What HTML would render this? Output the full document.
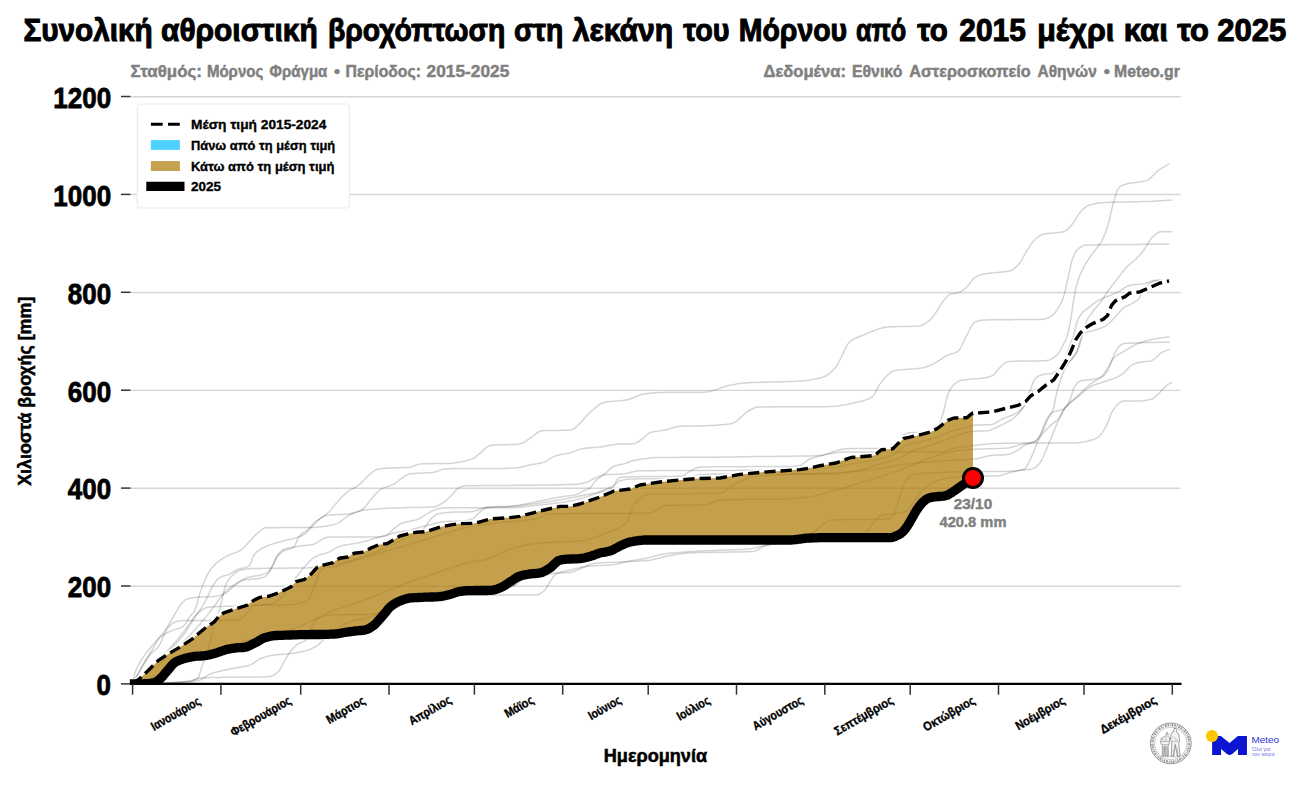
<!DOCTYPE html>
<html><head><meta charset="utf-8"><title>Chart</title>
<style>html,body{margin:0;padding:0;background:#fff;}svg{display:block;}text{font-family:"Liberation Sans",sans-serif;font-weight:bold;}</style>
</head><body>
<svg width="1300" height="786" viewBox="0 0 1300 786">
<rect width="1300" height="786" fill="#ffffff"/>
<text x="23.39" y="41.4" font-size="31.4" fill="#000" stroke="#000" stroke-width="1.0" textLength="129.36" lengthAdjust="spacingAndGlyphs">Συνολική</text>
<text x="161.0" y="41.4" font-size="31.4" fill="#000" stroke="#000" stroke-width="1.0" textLength="156.72" lengthAdjust="spacingAndGlyphs">αθροιστική</text>
<text x="328.03" y="41.4" font-size="31.4" fill="#000" stroke="#000" stroke-width="1.0" textLength="177.27" lengthAdjust="spacingAndGlyphs">βροχόπτωση</text>
<text x="513.89" y="41.4" font-size="31.4" fill="#000" stroke="#000" stroke-width="1.0" textLength="49.38" lengthAdjust="spacingAndGlyphs">στη</text>
<text x="572.63" y="41.4" font-size="31.4" fill="#000" stroke="#000" stroke-width="1.0" textLength="100.63" lengthAdjust="spacingAndGlyphs">λεκάνη</text>
<text x="683.2" y="41.4" font-size="31.4" fill="#000" stroke="#000" stroke-width="1.0" textLength="46.35" lengthAdjust="spacingAndGlyphs">του</text>
<text x="738.73" y="41.4" font-size="31.4" fill="#000" stroke="#000" stroke-width="1.0" textLength="108.43" lengthAdjust="spacingAndGlyphs">Μόρνου</text>
<text x="855.97" y="41.4" font-size="31.4" fill="#000" stroke="#000" stroke-width="1.0" textLength="50.32" lengthAdjust="spacingAndGlyphs">από</text>
<text x="917.32" y="41.4" font-size="31.4" fill="#000" stroke="#000" stroke-width="1.0" textLength="30.4" lengthAdjust="spacingAndGlyphs">το</text>
<text x="959.3" y="41.4" font-size="31.4" fill="#000" stroke="#000" stroke-width="1.0" textLength="66.54" lengthAdjust="spacingAndGlyphs">2015</text>
<text x="1037.26" y="41.4" font-size="31.4" fill="#000" stroke="#000" stroke-width="1.0" textLength="77.03" lengthAdjust="spacingAndGlyphs">μέχρι</text>
<text x="1123.76" y="41.4" font-size="31.4" fill="#000" stroke="#000" stroke-width="1.0" textLength="44.01" lengthAdjust="spacingAndGlyphs">και</text>
<text x="1177.18" y="41.4" font-size="31.4" fill="#000" stroke="#000" stroke-width="1.0" textLength="31.85" lengthAdjust="spacingAndGlyphs">το</text>
<text x="1217.2" y="41.4" font-size="31.4" fill="#000" stroke="#000" stroke-width="1.0" textLength="69.24" lengthAdjust="spacingAndGlyphs">2025</text>
<text x="130.45" y="77.4" font-size="17.3" fill="#808080" stroke="#808080" stroke-width="0.5" textLength="71.49" lengthAdjust="spacingAndGlyphs">Σταθμός:</text>
<text x="206.9" y="77.4" font-size="17.3" fill="#808080" stroke="#808080" stroke-width="0.5" textLength="56.4" lengthAdjust="spacingAndGlyphs">Μόρνος</text>
<text x="269.62" y="77.4" font-size="17.3" fill="#808080" stroke="#808080" stroke-width="0.5" textLength="57.77" lengthAdjust="spacingAndGlyphs">Φράγμα</text>
<text x="334.12" y="77.4" font-size="17.3" fill="#808080" stroke="#808080" stroke-width="0.5" textLength="6.06" lengthAdjust="spacingAndGlyphs">•</text>
<text x="345.6" y="77.4" font-size="17.3" fill="#808080" stroke="#808080" stroke-width="0.5" textLength="75.35" lengthAdjust="spacingAndGlyphs">Περίοδος:</text>
<text x="426.61" y="77.4" font-size="17.3" fill="#808080" stroke="#808080" stroke-width="0.5" textLength="82.66" lengthAdjust="spacingAndGlyphs">2015-2025</text>
<text x="763.58" y="77.4" font-size="17.3" fill="#808080" stroke="#808080" stroke-width="0.5" textLength="82.32" lengthAdjust="spacingAndGlyphs">Δεδομένα:</text>
<text x="851.93" y="77.4" font-size="17.3" fill="#808080" stroke="#808080" stroke-width="0.5" textLength="50.45" lengthAdjust="spacingAndGlyphs">Εθνικό</text>
<text x="909.34" y="77.4" font-size="17.3" fill="#808080" stroke="#808080" stroke-width="0.5" textLength="121.21" lengthAdjust="spacingAndGlyphs">Αστεροσκοπείο</text>
<text x="1037.52" y="77.4" font-size="17.3" fill="#808080" stroke="#808080" stroke-width="0.5" textLength="59.27" lengthAdjust="spacingAndGlyphs">Αθηνών</text>
<text x="1103.76" y="77.4" font-size="17.3" fill="#808080" stroke="#808080" stroke-width="0.5" textLength="6.17" lengthAdjust="spacingAndGlyphs">•</text>
<text x="1113.97" y="77.4" font-size="17.3" fill="#808080" stroke="#808080" stroke-width="0.5" textLength="65.82" lengthAdjust="spacingAndGlyphs">Meteo.gr</text>
<line x1="130.5" x2="1180.5" y1="586.15" y2="586.15" stroke="#d6d6d6" stroke-width="1.45"/>
<line x1="130.5" x2="1180.5" y1="488.25" y2="488.25" stroke="#d6d6d6" stroke-width="1.45"/>
<line x1="130.5" x2="1180.5" y1="390.35" y2="390.35" stroke="#d6d6d6" stroke-width="1.45"/>
<line x1="130.5" x2="1180.5" y1="292.45" y2="292.45" stroke="#d6d6d6" stroke-width="1.45"/>
<line x1="130.5" x2="1180.5" y1="194.55" y2="194.55" stroke="#d6d6d6" stroke-width="1.45"/>
<line x1="130.5" x2="1180.5" y1="96.65" y2="96.65" stroke="#d6d6d6" stroke-width="1.45"/>
<line x1="121" x2="130.5" y1="683.9" y2="683.9" stroke="#333" stroke-width="1.5"/>
<text x="96.6" y="695.2" font-size="28.6" fill="#000" stroke="#000" stroke-width="0.8" textLength="14.4" lengthAdjust="spacingAndGlyphs">0</text>
<line x1="121" x2="130.5" y1="586.0" y2="586.0" stroke="#333" stroke-width="1.5"/>
<text x="67.8" y="597.3" font-size="28.6" fill="#000" stroke="#000" stroke-width="0.8" textLength="43.3" lengthAdjust="spacingAndGlyphs">200</text>
<line x1="121" x2="130.5" y1="488.1" y2="488.1" stroke="#333" stroke-width="1.5"/>
<text x="67.8" y="499.4" font-size="28.6" fill="#000" stroke="#000" stroke-width="0.8" textLength="43.3" lengthAdjust="spacingAndGlyphs">400</text>
<line x1="121" x2="130.5" y1="390.2" y2="390.2" stroke="#333" stroke-width="1.5"/>
<text x="67.8" y="401.5" font-size="28.6" fill="#000" stroke="#000" stroke-width="0.8" textLength="43.3" lengthAdjust="spacingAndGlyphs">600</text>
<line x1="121" x2="130.5" y1="292.3" y2="292.3" stroke="#333" stroke-width="1.5"/>
<text x="67.8" y="303.6" font-size="28.6" fill="#000" stroke="#000" stroke-width="0.8" textLength="43.3" lengthAdjust="spacingAndGlyphs">800</text>
<line x1="121" x2="130.5" y1="194.4" y2="194.4" stroke="#333" stroke-width="1.5"/>
<text x="53.3" y="205.7" font-size="28.6" fill="#000" stroke="#000" stroke-width="0.8" textLength="57.8" lengthAdjust="spacingAndGlyphs">1000</text>
<line x1="121" x2="130.5" y1="96.5" y2="96.5" stroke="#333" stroke-width="1.5"/>
<text x="53.3" y="107.8" font-size="28.6" fill="#000" stroke="#000" stroke-width="0.8" textLength="57.8" lengthAdjust="spacingAndGlyphs">1200</text>
<text transform="translate(31.3,391.3) rotate(-90)" text-anchor="middle" font-size="17.5" fill="#000" stroke="#000" stroke-width="0.5" textLength="189" lengthAdjust="spacingAndGlyphs">Χιλιοστά βροχής [mm]</text>
<g fill="none" stroke="#000" stroke-opacity="0.17" stroke-width="1.5" stroke-linejoin="round">
<path d="M132.6,683.9 L134.6,680.2 L136.6,676.7 L138.6,673.2 L140.6,669.7 L142.6,666.3 L144.6,662.9 L146.6,659.5 L148.6,656.5 L150.6,654.1 L152.6,652.2 L154.6,650.5 L156.6,648.7 L158.6,646.3 L160.6,642.7 L162.6,638.4 L164.6,634.0 L166.6,629.7 L168.6,626.9 L170.6,624.9 L172.6,623.2 L174.6,622.1 L176.6,621.6 L178.6,621.2 L180.6,620.8 L182.6,620.6 L184.6,620.4 L186.6,620.4 L188.6,620.4 L190.6,620.4 L192.6,620.4 L194.6,620.4 L196.6,620.4 L198.7,620.4 L200.7,620.4 L202.7,620.4 L204.7,620.4 L206.7,620.4 L208.7,620.4 L210.7,620.4 L212.7,620.4 L214.7,620.4 L216.7,620.4 L218.7,620.4 L220.7,620.4 L222.7,620.4 L224.7,620.3 L226.7,620.3 L228.7,620.2 L230.7,620.1 L232.7,620.0 L234.7,619.9 L236.7,619.8 L238.7,619.7 L240.7,619.2 L242.7,617.6 L244.7,615.4 L246.7,613.1 L248.7,610.9 L250.7,608.3 L252.7,606.1 L254.7,605.1 L256.7,605.1 L258.7,605.0 L260.7,605.0 L262.7,604.9 L264.7,604.9 L266.7,604.9 L268.7,604.9 L270.7,604.9 L272.7,604.9 L274.7,604.9 L276.7,604.9 L278.7,604.9 L280.7,604.8 L282.7,604.8 L284.7,604.8 L286.7,604.8 L288.7,604.7 L290.7,604.7 L292.7,604.6 L294.7,604.3 L296.7,604.0 L298.7,603.6 L300.7,603.1 L302.7,602.5 L304.7,601.8 L306.7,601.0 L308.7,599.1 L310.7,595.3 L312.7,590.5 L314.7,585.6 L316.7,580.2 L318.7,574.3 L320.7,570.3 L322.7,568.6 L324.7,567.4 L326.7,566.5 L328.8,565.8 L330.8,565.2 L332.8,564.6 L334.8,564.1 L336.8,563.7 L338.8,563.3 L340.8,562.9 L342.8,562.5 L344.8,562.1 L346.8,561.5 L348.8,561.0 L350.8,560.4 L352.8,559.9 L354.8,559.3 L356.8,558.7 L358.8,558.1 L360.8,557.4 L362.8,556.8 L364.8,556.1 L366.8,555.4 L368.8,554.6 L370.8,553.9 L372.8,553.1 L374.8,552.3 L376.8,551.5 L378.8,550.7 L380.8,549.8 L382.8,549.0 L384.8,548.1 L386.8,547.2 L388.8,546.3 L390.8,545.4 L392.8,544.4 L394.8,543.5 L396.8,542.5 L398.8,541.6 L400.8,540.6 L402.8,539.7 L404.8,538.8 L406.8,537.9 L408.8,537.0 L410.8,536.1 L412.8,535.1 L414.8,534.1 L416.8,533.0 L418.8,532.0 L420.8,530.8 L422.8,529.4 L424.8,527.5 L426.8,524.7 L428.8,521.7 L430.8,519.3 L432.8,517.3 L434.8,515.5 L436.8,514.2 L438.8,513.7 L440.8,513.3 L442.8,512.9 L444.8,512.7 L446.8,512.5 L448.8,512.4 L450.8,512.3 L452.8,512.2 L454.8,512.1 L456.9,512.1 L458.9,512.1 L460.9,512.0 L462.9,512.0 L464.9,511.9 L466.9,511.9 L468.9,511.8 L470.9,511.7 L472.9,511.4 L474.9,510.9 L476.9,510.2 L478.9,509.5 L480.9,508.9 L482.9,508.3 L484.9,507.7 L486.9,507.2 L488.9,507.0 L490.9,506.9 L492.9,506.8 L494.9,506.7 L496.9,506.6 L498.9,506.6 L500.9,506.5 L502.9,506.5 L504.9,506.4 L506.9,506.4 L508.9,506.3 L510.9,506.1 L512.9,506.0 L514.9,505.8 L516.9,505.5 L518.9,505.2 L520.9,504.8 L522.9,504.5 L524.9,504.1 L526.9,503.7 L528.9,503.3 L530.9,502.9 L532.9,502.4 L534.9,502.0 L536.9,501.6 L538.9,501.2 L540.9,500.8 L542.9,500.4 L544.9,500.0 L546.9,499.6 L548.9,499.2 L550.9,498.8 L552.9,498.3 L554.9,497.9 L556.9,497.6 L558.9,497.2 L560.9,496.9 L562.9,496.6 L564.9,496.3 L566.9,496.1 L568.9,495.9 L570.9,495.6 L572.9,495.3 L574.9,495.0 L576.9,494.5 L578.9,493.6 L580.9,492.2 L582.9,491.0 L584.9,490.2 L587.0,489.6 L589.0,488.7 L591.0,486.9 L593.0,484.1 L595.0,481.4 L597.0,479.5 L599.0,478.0 L601.0,476.6 L603.0,475.2 L605.0,473.7 L607.0,471.9 L609.0,469.9 L611.0,468.1 L613.0,466.6 L615.0,465.8 L617.0,465.3 L619.0,464.8 L621.0,464.4 L623.0,464.0 L625.0,463.4 L627.0,462.7 L629.0,462.0 L631.0,461.3 L633.0,460.7 L635.0,460.2 L637.0,459.9 L639.0,459.5 L641.0,459.2 L643.0,458.9 L645.0,458.7 L647.0,458.4 L649.0,458.2 L651.0,458.0 L653.0,457.8 L655.0,457.6 L657.0,457.5 L659.0,457.5 L661.0,457.4 L663.0,457.4 L665.0,457.4 L667.0,457.4 L669.0,457.4 L671.0,457.4 L673.0,457.4 L675.0,457.4 L677.0,457.4 L679.0,457.3 L681.0,457.3 L683.0,457.3 L685.0,457.3 L687.0,457.3 L689.0,457.3 L691.0,457.3 L693.0,457.3 L695.0,457.3 L697.0,457.3 L699.0,457.3 L701.0,457.3 L703.0,457.3 L705.0,457.3 L707.0,457.3 L709.0,457.2 L711.0,457.2 L713.0,457.2 L715.0,457.2 L717.1,457.2 L719.1,457.1 L721.1,457.1 L723.1,457.1 L725.1,457.0 L727.1,457.0 L729.1,457.0 L731.1,457.0 L733.1,456.9 L735.1,456.9 L737.1,456.9 L739.1,456.8 L741.1,456.8 L743.1,456.8 L745.1,456.7 L747.1,456.7 L749.1,456.7 L751.1,456.6 L753.1,456.6 L755.1,456.6 L757.1,456.5 L759.1,456.5 L761.1,456.5 L763.1,456.5 L765.1,456.4 L767.1,456.4 L769.1,456.4 L771.1,456.4 L773.1,456.4 L775.1,456.3 L777.1,456.3 L779.1,456.3 L781.1,456.3 L783.1,456.3 L785.1,456.3 L787.1,456.2 L789.1,456.2 L791.1,456.2 L793.1,456.2 L795.1,456.1 L797.1,456.1 L799.1,456.1 L801.1,456.1 L803.1,456.0 L805.1,456.0 L807.1,456.0 L809.1,455.9 L811.1,455.9 L813.1,455.8 L815.1,455.8 L817.1,455.7 L819.1,455.6 L821.1,455.5 L823.1,455.2 L825.1,454.6 L827.1,454.0 L829.1,453.2 L831.1,452.5 L833.1,451.8 L835.1,451.2 L837.1,450.6 L839.1,449.9 L841.1,449.4 L843.1,448.9 L845.1,448.8 L847.2,448.7 L849.2,448.7 L851.2,448.6 L853.2,448.6 L855.2,448.6 L857.2,448.6 L859.2,448.6 L861.2,448.5 L863.2,448.5 L865.2,448.5 L867.2,448.5 L869.2,448.5 L871.2,448.5 L873.2,448.5 L875.2,448.5 L877.2,448.4 L879.2,448.4 L881.2,448.4 L883.2,448.4 L885.2,448.3 L887.2,448.3 L889.2,448.2 L891.2,447.8 L893.2,446.8 L895.2,445.4 L897.2,443.9 L899.2,441.1 L901.2,437.9 L903.2,435.2 L905.2,434.0 L907.2,433.1 L909.2,432.8 L911.2,432.7 L913.2,432.7 L915.2,432.6 L917.2,432.6 L919.2,432.6 L921.2,432.6 L923.2,432.6 L925.2,432.6 L927.2,432.5 L929.2,432.5 L931.2,432.4 L933.2,431.5 L935.2,429.7 L937.2,427.3 L939.2,424.0 L941.2,419.2 L943.2,413.3 L945.2,404.6 L947.2,396.4 L949.2,391.5 L951.2,387.8 L953.2,385.4 L955.2,383.5 L957.2,382.0 L959.2,380.9 L961.2,380.3 L963.2,380.0 L965.2,379.7 L967.2,379.4 L969.2,379.3 L971.2,379.1 L973.2,379.0 L975.3,378.8 L977.3,378.7 L979.3,378.5 L981.3,378.3 L983.3,378.1 L985.3,377.8 L987.3,377.3 L989.3,376.8 L991.3,376.1 L993.3,375.2 L995.3,373.3 L997.3,370.7 L999.3,368.1 L1001.3,366.2 L1003.3,364.4 L1005.3,362.8 L1007.3,361.8 L1009.3,361.5 L1011.3,361.4 L1013.3,361.3 L1015.3,361.2 L1017.3,361.2 L1019.3,361.1 L1021.3,361.1 L1023.3,361.1 L1025.3,361.1 L1027.3,361.0 L1029.3,361.0 L1031.3,361.0 L1033.3,361.0 L1035.3,360.9 L1037.3,360.9 L1039.3,360.8 L1041.3,360.8 L1043.3,360.7 L1045.3,360.6 L1047.3,360.4 L1049.3,359.9 L1051.3,359.1 L1053.3,357.9 L1055.3,356.4 L1057.3,354.8 L1059.3,352.1 L1061.3,348.3 L1063.3,344.5 L1065.3,341.1 L1067.3,335.9 L1069.3,327.3 L1071.3,316.3 L1073.3,301.8 L1075.3,290.9 L1077.3,283.0 L1079.3,276.8 L1081.3,272.0 L1083.3,267.9 L1085.3,264.4 L1087.3,261.2 L1089.3,258.2 L1091.3,255.2 L1093.3,252.4 L1095.3,249.9 L1097.3,247.5 L1099.3,244.9 L1101.3,241.8 L1103.3,237.9 L1105.4,232.7 L1107.4,226.7 L1109.4,219.4 L1111.4,210.7 L1113.4,202.8 L1115.4,196.0 L1117.4,190.1 L1119.4,187.1 L1121.4,185.9 L1123.4,185.0 L1125.4,184.3 L1127.4,183.8 L1129.4,183.3 L1131.4,183.0 L1133.4,182.7 L1135.4,182.4 L1137.4,182.2 L1139.4,182.0 L1141.4,181.7 L1143.4,181.3 L1145.4,180.9 L1147.4,180.2 L1149.4,179.0 L1151.4,177.1 L1153.4,175.0 L1155.4,172.9 L1157.4,171.1 L1159.4,169.7 L1161.4,168.4 L1163.4,167.1 L1165.4,165.9 L1167.4,164.9 L1169.4,163.9"/>
<path d="M132.6,683.9 L134.6,682.1 L136.6,680.4 L138.6,678.6 L140.6,676.8 L142.6,674.9 L144.6,673.1 L146.6,671.2 L148.6,669.3 L150.6,667.4 L152.6,665.5 L154.6,663.6 L156.6,661.6 L158.6,659.7 L160.6,657.7 L162.6,655.7 L164.6,653.7 L166.7,651.6 L168.7,649.5 L170.7,647.3 L172.7,645.0 L174.7,642.7 L176.7,640.4 L178.7,638.0 L180.7,635.5 L182.7,633.0 L184.7,630.4 L186.7,627.7 L188.7,624.9 L190.7,621.9 L192.7,619.1 L194.7,616.4 L196.7,614.0 L198.7,611.8 L200.7,609.0 L202.7,605.7 L204.7,602.1 L206.7,598.3 L208.7,594.3 L210.7,590.0 L212.7,586.1 L214.7,583.0 L216.7,580.2 L218.7,578.2 L220.7,577.1 L222.7,576.3 L224.7,575.7 L226.7,575.1 L228.7,574.5 L230.8,573.6 L232.8,572.3 L234.8,571.0 L236.8,569.8 L238.8,569.0 L240.8,568.5 L242.8,568.1 L244.8,567.7 L246.8,567.1 L248.8,566.1 L250.8,563.4 L252.8,557.0 L254.8,554.0 L256.8,551.9 L258.8,550.4 L260.8,549.0 L262.8,547.9 L264.8,547.0 L266.8,546.1 L268.8,545.3 L270.8,544.6 L272.8,543.9 L274.8,543.3 L276.8,542.7 L278.8,542.2 L280.8,541.7 L282.8,541.1 L284.8,540.6 L286.8,540.1 L288.8,539.6 L290.8,539.2 L292.8,538.7 L294.8,538.1 L296.9,537.5 L298.9,536.9 L300.9,536.1 L302.9,535.2 L304.9,534.0 L306.9,532.2 L308.9,530.1 L310.9,527.9 L312.9,525.8 L314.9,523.7 L316.9,521.7 L318.9,519.8 L320.9,518.1 L322.9,516.6 L324.9,515.3 L326.9,513.8 L328.9,512.0 L330.9,509.9 L332.9,507.4 L334.9,504.9 L336.9,502.5 L338.9,500.3 L340.9,498.1 L342.9,496.0 L344.9,494.1 L346.9,492.4 L348.9,490.9 L350.9,489.7 L352.9,488.6 L354.9,487.5 L356.9,486.3 L358.9,484.9 L361.0,483.1 L363.0,481.1 L365.0,478.9 L367.0,476.8 L369.0,475.0 L371.0,473.4 L373.0,471.7 L375.0,470.4 L377.0,469.5 L379.0,469.1 L381.0,468.8 L383.0,468.5 L385.0,468.3 L387.0,468.2 L389.0,468.1 L391.0,468.0 L393.0,467.9 L395.0,467.8 L397.0,467.8 L399.0,467.7 L401.0,467.7 L403.0,467.6 L405.0,467.6 L407.0,467.5 L409.0,467.4 L411.0,466.9 L413.0,466.3 L415.0,465.5 L417.0,464.7 L419.0,464.1 L421.0,463.9 L423.0,463.8 L425.1,463.8 L427.1,463.7 L429.1,463.7 L431.1,463.7 L433.1,463.7 L435.1,463.6 L437.1,463.6 L439.1,463.6 L441.1,463.6 L443.1,463.5 L445.1,463.5 L447.1,463.4 L449.1,463.4 L451.1,463.3 L453.1,463.1 L455.1,462.9 L457.1,462.6 L459.1,462.3 L461.1,461.9 L463.1,461.5 L465.1,461.1 L467.1,460.5 L469.1,460.0 L471.1,459.4 L473.1,458.6 L475.1,457.3 L477.1,455.7 L479.1,454.1 L481.1,452.4 L483.1,450.4 L485.1,448.5 L487.1,446.9 L489.1,446.0 L491.2,445.5 L493.2,445.1 L495.2,444.9 L497.2,444.8 L499.2,444.8 L501.2,444.7 L503.2,444.7 L505.2,444.7 L507.2,444.7 L509.2,444.6 L511.2,444.6 L513.2,444.5 L515.2,444.4 L517.2,444.2 L519.2,444.0 L521.2,443.6 L523.2,442.8 L525.2,441.6 L527.2,440.2 L529.2,438.7 L531.2,437.4 L533.2,436.0 L535.2,434.3 L537.2,432.7 L539.2,431.5 L541.2,430.8 L543.2,430.7 L545.2,430.6 L547.2,430.6 L549.2,430.5 L551.2,430.5 L553.2,430.4 L555.3,430.4 L557.3,430.4 L559.3,430.4 L561.3,430.3 L563.3,430.3 L565.3,430.3 L567.3,430.2 L569.3,430.1 L571.3,429.9 L573.3,429.1 L575.3,427.6 L577.3,425.8 L579.3,423.8 L581.3,422.0 L583.3,419.7 L585.3,417.4 L587.3,415.1 L589.3,413.1 L591.3,411.3 L593.3,409.5 L595.3,407.8 L597.3,406.2 L599.3,404.7 L601.3,403.5 L603.3,402.7 L605.3,402.2 L607.3,401.9 L609.3,401.6 L611.3,401.4 L613.3,401.2 L615.3,401.1 L617.3,400.9 L619.3,400.8 L621.4,400.6 L623.4,400.4 L625.4,400.1 L627.4,399.8 L629.4,399.2 L631.4,398.5 L633.4,397.7 L635.4,396.8 L637.4,396.0 L639.4,395.2 L641.4,394.5 L643.4,394.0 L645.4,393.7 L647.4,393.5 L649.4,393.3 L651.4,393.1 L653.4,393.0 L655.4,392.8 L657.4,392.7 L659.4,392.6 L661.4,392.5 L663.4,392.4 L665.4,392.3 L667.4,392.3 L669.4,392.3 L671.4,392.3 L673.4,392.3 L675.4,392.3 L677.4,392.3 L679.4,392.3 L681.4,392.3 L683.4,392.3 L685.5,392.3 L687.5,392.3 L689.5,392.3 L691.5,392.3 L693.5,392.3 L695.5,392.3 L697.5,392.3 L699.5,392.3 L701.5,392.3 L703.5,392.2 L705.5,392.0 L707.5,391.8 L709.5,391.4 L711.5,391.0 L713.5,390.4 L715.5,389.8 L717.5,389.1 L719.5,388.4 L721.5,387.6 L723.5,387.0 L725.5,386.3 L727.5,385.7 L729.5,385.2 L731.5,384.9 L733.5,384.5 L735.5,384.2 L737.5,383.8 L739.5,383.6 L741.5,383.3 L743.5,383.1 L745.5,383.0 L747.5,382.8 L749.5,382.7 L751.6,382.6 L753.6,382.5 L755.6,382.5 L757.6,382.4 L759.6,382.3 L761.6,382.3 L763.6,382.2 L765.6,382.2 L767.6,382.1 L769.6,382.1 L771.6,382.0 L773.6,382.0 L775.6,381.9 L777.6,381.9 L779.6,381.8 L781.6,381.8 L783.6,381.7 L785.6,381.7 L787.6,381.6 L789.6,381.5 L791.6,381.5 L793.6,381.4 L795.6,381.3 L797.6,381.1 L799.6,381.0 L801.6,380.9 L803.6,380.7 L805.6,380.5 L807.6,380.3 L809.6,380.0 L811.6,379.6 L813.6,379.3 L815.7,378.9 L817.7,378.4 L819.7,377.9 L821.7,377.4 L823.7,376.7 L825.7,376.0 L827.7,374.9 L829.7,373.3 L831.7,371.4 L833.7,369.3 L835.7,367.0 L837.7,364.2 L839.7,360.5 L841.7,356.3 L843.7,351.9 L845.7,347.8 L847.7,344.3 L849.7,341.8 L851.7,340.4 L853.7,339.2 L855.7,338.2 L857.7,337.3 L859.7,336.5 L861.7,335.7 L863.7,334.9 L865.7,334.0 L867.7,333.1 L869.7,332.3 L871.7,331.5 L873.7,330.7 L875.7,329.9 L877.7,329.2 L879.7,328.6 L881.8,328.0 L883.8,327.6 L885.8,327.2 L887.8,327.0 L889.8,326.8 L891.8,326.8 L893.8,326.7 L895.8,326.6 L897.8,326.6 L899.8,326.6 L901.8,326.5 L903.8,326.5 L905.8,326.5 L907.8,326.4 L909.8,326.4 L911.8,326.3 L913.8,326.3 L915.8,326.2 L917.8,326.1 L919.8,325.9 L921.8,325.3 L923.8,324.4 L925.8,323.1 L927.8,321.7 L929.8,320.1 L931.8,318.3 L933.8,315.7 L935.8,312.7 L937.8,309.5 L939.8,306.2 L941.8,303.1 L943.8,300.4 L945.9,297.9 L947.9,295.6 L949.9,294.2 L951.9,293.7 L953.9,293.5 L955.9,293.2 L957.9,292.9 L959.9,292.1 L961.9,290.9 L963.9,289.4 L965.9,287.7 L967.9,285.8 L969.9,283.1 L971.9,280.4 L973.9,278.2 L975.9,276.9 L977.9,275.9 L979.9,275.1 L981.9,274.5 L983.9,274.0 L985.9,273.7 L987.9,273.4 L989.9,273.1 L991.9,272.9 L993.9,272.8 L995.9,272.6 L997.9,272.5 L999.9,272.3 L1001.9,272.1 L1003.9,271.9 L1005.9,271.6 L1007.9,271.2 L1010.0,270.8 L1012.0,270.2 L1014.0,268.9 L1016.0,267.1 L1018.0,265.0 L1020.0,262.6 L1022.0,259.5 L1024.0,255.8 L1026.0,252.1 L1028.0,248.9 L1030.0,245.9 L1032.0,243.0 L1034.0,240.5 L1036.0,238.5 L1038.0,237.0 L1040.0,235.7 L1042.0,234.7 L1044.0,234.0 L1046.0,233.7 L1048.0,233.4 L1050.0,233.2 L1052.0,233.0 L1054.0,232.9 L1056.0,232.8 L1058.0,232.6 L1060.0,232.4 L1062.0,232.1 L1064.0,231.6 L1066.0,230.6 L1068.0,228.9 L1070.0,226.8 L1072.0,224.6 L1074.0,221.8 L1076.1,218.5 L1078.1,215.1 L1080.1,212.4 L1082.1,210.3 L1084.1,208.4 L1086.1,206.7 L1088.1,205.6 L1090.1,205.0 L1092.1,204.4 L1094.1,203.9 L1096.1,203.5 L1098.1,203.1 L1100.1,202.9 L1102.1,202.7 L1104.1,202.6 L1106.1,202.5 L1108.1,202.4 L1110.1,202.3 L1112.1,202.3 L1114.1,202.2 L1116.1,202.1 L1118.1,202.1 L1120.1,202.0 L1122.1,202.0 L1124.1,202.0 L1126.1,201.9 L1128.1,201.9 L1130.1,201.9 L1132.1,201.8 L1134.1,201.8 L1136.1,201.8 L1138.1,201.7 L1140.2,201.7 L1142.2,201.6 L1144.2,201.6 L1146.2,201.5 L1148.2,201.5 L1150.2,201.4 L1152.2,201.3 L1154.2,201.2 L1156.2,201.1 L1158.2,201.0 L1160.2,200.8 L1162.2,200.7 L1164.2,200.5 L1166.2,200.4 L1168.2,200.2 L1170.2,200.1 L1172.2,199.9"/>
<path d="M132.6,683.9 L134.6,683.9 L136.6,683.9 L138.6,683.9 L140.6,683.8 L142.6,683.8 L144.6,683.8 L146.6,683.7 L148.6,683.6 L150.6,683.6 L152.6,683.5 L154.6,683.4 L156.6,683.4 L158.6,683.3 L160.6,683.2 L162.6,683.1 L164.6,683.1 L166.7,683.0 L168.7,682.9 L170.7,682.8 L172.7,682.7 L174.7,682.5 L176.7,682.4 L178.7,682.2 L180.7,682.1 L182.7,681.9 L184.7,681.7 L186.7,681.4 L188.7,681.2 L190.7,680.9 L192.7,680.3 L194.7,679.5 L196.7,678.8 L198.7,678.2 L200.7,678.0 L202.7,677.9 L204.7,677.8 L206.7,677.7 L208.7,677.6 L210.7,677.6 L212.7,677.5 L214.7,677.5 L216.7,677.5 L218.7,677.4 L220.7,677.4 L222.7,677.3 L224.7,677.3 L226.7,677.3 L228.7,677.3 L230.8,677.2 L232.8,677.2 L234.8,677.2 L236.8,677.2 L238.8,677.2 L240.8,677.1 L242.8,677.1 L244.8,677.1 L246.8,677.1 L248.8,677.1 L250.8,677.1 L252.8,677.0 L254.8,677.0 L256.8,677.0 L258.8,676.9 L260.8,676.9 L262.8,676.8 L264.8,676.8 L266.8,676.7 L268.8,676.6 L270.8,676.5 L272.8,675.8 L274.8,674.6 L276.8,673.0 L278.8,671.1 L280.8,667.9 L282.8,664.1 L284.8,660.6 L286.8,657.0 L288.8,653.6 L290.8,651.0 L292.8,648.6 L294.8,646.6 L296.9,644.8 L298.9,643.5 L300.9,642.6 L302.9,641.9 L304.9,640.9 L306.9,638.6 L308.9,632.9 L310.9,628.3 L312.9,624.5 L314.9,621.1 L316.9,618.7 L318.9,617.6 L320.9,616.8 L322.9,616.2 L324.9,615.7 L326.9,615.3 L328.9,615.1 L330.9,615.0 L332.9,614.9 L334.9,614.8 L336.9,614.7 L338.9,614.7 L340.9,614.7 L342.9,614.6 L344.9,614.6 L346.9,614.6 L348.9,614.5 L350.9,614.5 L352.9,614.5 L354.9,614.5 L356.9,614.5 L358.9,614.5 L361.0,614.4 L363.0,614.4 L365.0,614.4 L367.0,614.3 L369.0,614.3 L371.0,614.2 L373.0,614.1 L375.0,614.0 L377.0,613.9 L379.0,613.2 L381.0,612.2 L383.0,610.9 L385.0,609.4 L387.0,607.9 L389.0,606.6 L391.0,605.5 L393.0,604.3 L395.0,603.1 L397.0,602.1 L399.0,601.3 L401.0,600.8 L403.0,600.3 L405.0,600.0 L407.0,599.6 L409.0,599.3 L411.0,599.0 L413.0,598.7 L415.0,598.5 L417.0,598.2 L419.0,598.0 L421.0,597.8 L423.0,597.6 L425.1,597.4 L427.1,597.3 L429.1,597.1 L431.1,596.9 L433.1,596.7 L435.1,596.5 L437.1,596.4 L439.1,596.2 L441.1,596.0 L443.1,595.8 L445.1,595.7 L447.1,595.5 L449.1,595.4 L451.1,595.3 L453.1,595.2 L455.1,595.1 L457.1,595.0 L459.1,595.0 L461.1,595.0 L463.1,595.0 L465.1,595.0 L467.1,595.0 L469.1,595.0 L471.1,595.0 L473.1,595.0 L475.1,595.0 L477.1,595.0 L479.1,595.0 L481.1,595.0 L483.1,595.0 L485.1,595.0 L487.1,595.0 L489.1,595.0 L491.2,595.0 L493.2,595.0 L495.2,595.0 L497.2,595.0 L499.2,595.0 L501.2,595.0 L503.2,595.0 L505.2,595.0 L507.2,595.0 L509.2,595.0 L511.2,595.0 L513.2,595.0 L515.2,595.0 L517.2,595.0 L519.2,595.0 L521.2,595.0 L523.2,595.0 L525.2,595.0 L527.2,595.0 L529.2,595.0 L531.2,595.0 L533.2,595.0 L535.2,595.0 L537.2,594.9 L539.2,594.2 L541.2,593.0 L543.2,591.6 L545.2,589.7 L547.2,586.6 L549.2,583.1 L551.2,580.1 L553.2,577.0 L555.3,574.5 L557.3,573.4 L559.3,572.6 L561.3,572.0 L563.3,571.5 L565.3,571.0 L567.3,570.6 L569.3,570.2 L571.3,569.7 L573.3,569.2 L575.3,568.7 L577.3,568.2 L579.3,567.8 L581.3,567.3 L583.3,566.9 L585.3,566.6 L587.3,566.3 L589.3,566.1 L591.3,565.9 L593.3,565.8 L595.3,565.7 L597.3,565.6 L599.3,565.5 L601.3,565.5 L603.3,565.4 L605.3,565.3 L607.3,565.2 L609.3,565.1 L611.3,564.9 L613.3,564.6 L615.3,564.3 L617.3,563.9 L619.3,563.4 L621.4,562.9 L623.4,562.5 L625.4,562.0 L627.4,561.5 L629.4,561.1 L631.4,560.8 L633.4,560.4 L635.4,560.1 L637.4,559.8 L639.4,559.4 L641.4,559.1 L643.4,558.8 L645.4,558.4 L647.4,558.0 L649.4,557.6 L651.4,557.1 L653.4,556.5 L655.4,556.0 L657.4,555.4 L659.4,554.9 L661.4,554.4 L663.4,554.1 L665.4,553.8 L667.4,553.6 L669.4,553.3 L671.4,553.1 L673.4,552.9 L675.4,552.7 L677.4,552.5 L679.4,552.4 L681.4,552.2 L683.4,552.1 L685.5,551.9 L687.5,551.8 L689.5,551.6 L691.5,551.5 L693.5,551.4 L695.5,551.3 L697.5,551.1 L699.5,551.0 L701.5,550.9 L703.5,550.8 L705.5,550.7 L707.5,550.6 L709.5,550.6 L711.5,550.5 L713.5,550.4 L715.5,550.4 L717.5,550.3 L719.5,550.2 L721.5,550.2 L723.5,550.1 L725.5,550.1 L727.5,550.0 L729.5,549.9 L731.5,549.8 L733.5,549.8 L735.5,549.7 L737.5,549.6 L739.5,549.5 L741.5,549.4 L743.5,549.2 L745.5,549.1 L747.5,549.0 L749.5,548.7 L751.6,548.4 L753.6,548.1 L755.6,547.7 L757.6,547.2 L759.6,546.8 L761.6,546.3 L763.6,545.9 L765.6,545.5 L767.6,545.0 L769.6,544.6 L771.6,544.2 L773.6,543.7 L775.6,543.3 L777.6,542.8 L779.6,542.3 L781.6,541.8 L783.6,541.3 L785.6,540.9 L787.6,540.4 L789.6,539.9 L791.6,539.3 L793.6,538.8 L795.6,538.3 L797.6,537.7 L799.6,537.1 L801.6,536.5 L803.6,535.9 L805.6,535.3 L807.6,534.7 L809.6,534.0 L811.6,533.1 L813.6,532.2 L815.7,530.9 L817.7,529.1 L819.7,527.1 L821.7,525.3 L823.7,523.7 L825.7,522.2 L827.7,520.9 L829.7,520.0 L831.7,519.9 L833.7,519.9 L835.7,519.8 L837.7,519.8 L839.7,519.7 L841.7,519.7 L843.7,519.7 L845.7,519.6 L847.7,519.6 L849.7,519.6 L851.7,519.6 L853.7,519.6 L855.7,519.6 L857.7,519.5 L859.7,519.5 L861.7,519.5 L863.7,519.4 L865.7,519.4 L867.7,519.4 L869.7,519.4 L871.7,519.4 L873.7,519.4 L875.7,519.3 L877.7,519.3 L879.7,519.3 L881.8,519.2 L883.8,519.2 L885.8,519.2 L887.8,519.1 L889.8,519.0 L891.8,517.9 L893.8,514.7 L895.8,510.5 L897.8,504.3 L899.8,496.7 L901.8,490.3 L903.8,484.3 L905.8,480.3 L907.8,478.1 L909.8,476.4 L911.8,475.1 L913.8,474.3 L915.8,473.9 L917.8,473.7 L919.8,473.5 L921.8,473.3 L923.8,473.2 L925.8,473.1 L927.8,473.0 L929.8,472.9 L931.8,472.8 L933.8,472.7 L935.8,472.7 L937.8,472.6 L939.8,472.5 L941.8,472.4 L943.8,472.3 L945.9,472.3 L947.9,472.2 L949.9,472.1 L951.9,472.0 L953.9,472.0 L955.9,471.9 L957.9,471.8 L959.9,471.8 L961.9,471.7 L963.9,471.7 L965.9,471.6 L967.9,471.6 L969.9,471.5 L971.9,471.5 L973.9,471.5 L975.9,471.5 L977.9,471.5 L979.9,471.5 L981.9,471.4 L983.9,471.4 L985.9,471.4 L987.9,471.4 L989.9,471.4 L991.9,471.4 L993.9,471.4 L995.9,471.4 L997.9,471.4 L999.9,471.4 L1001.9,471.4 L1003.9,471.4 L1005.9,471.3 L1007.9,471.3 L1010.0,471.3 L1012.0,471.2 L1014.0,471.1 L1016.0,470.9 L1018.0,470.6 L1020.0,470.2 L1022.0,469.7 L1024.0,469.2 L1026.0,467.6 L1028.0,464.1 L1030.0,460.0 L1032.0,455.8 L1034.0,450.7 L1036.0,445.6 L1038.0,441.0 L1040.0,436.7 L1042.0,432.3 L1044.0,427.9 L1046.0,423.3 L1048.0,418.9 L1050.0,415.4 L1052.0,412.4 L1054.0,406.3 L1056.0,396.2 L1058.0,387.8 L1060.0,381.7 L1062.0,376.1 L1064.0,370.6 L1066.0,366.7 L1068.0,363.9 L1070.0,361.4 L1072.0,358.8 L1074.0,355.8 L1076.1,352.6 L1078.1,348.9 L1080.1,343.7 L1082.1,336.4 L1084.1,329.1 L1086.1,322.1 L1088.1,318.0 L1090.1,315.1 L1092.1,312.5 L1094.1,310.0 L1096.1,307.6 L1098.1,305.3 L1100.1,302.8 L1102.1,300.0 L1104.1,296.9 L1106.1,293.8 L1108.1,291.0 L1110.1,288.3 L1112.1,285.6 L1114.1,283.0 L1116.1,280.4 L1118.1,277.8 L1120.1,275.1 L1122.1,272.5 L1124.1,270.0 L1126.1,267.7 L1128.1,265.7 L1130.1,264.0 L1132.1,262.5 L1134.1,260.8 L1136.1,259.0 L1138.1,256.8 L1140.2,254.5 L1142.2,252.1 L1144.2,249.5 L1146.2,246.4 L1148.2,243.0 L1150.2,239.8 L1152.2,237.4 L1154.2,235.6 L1156.2,233.8 L1158.2,232.5 L1160.2,231.8 L1162.2,231.8 L1164.2,231.8 L1166.2,231.8 L1168.2,231.8 L1170.2,231.8 L1172.2,231.8"/>
<path d="M132.6,683.9 L134.6,680.1 L136.6,676.4 L138.6,672.7 L140.6,669.0 L142.6,665.4 L144.6,661.9 L146.6,658.6 L148.6,655.5 L150.6,652.4 L152.6,649.2 L154.6,645.7 L156.6,642.0 L158.6,638.9 L160.6,636.8 L162.6,635.3 L164.6,634.1 L166.6,633.0 L168.6,632.1 L170.6,631.2 L172.6,630.4 L174.6,629.7 L176.6,629.1 L178.6,628.5 L180.6,627.7 L182.6,626.7 L184.6,624.9 L186.6,622.0 L188.6,618.7 L190.6,615.7 L192.6,613.6 L194.6,611.1 L196.6,605.0 L198.7,596.9 L200.7,590.7 L202.7,585.4 L204.7,580.7 L206.7,576.2 L208.7,572.4 L210.7,569.3 L212.7,566.9 L214.7,564.8 L216.7,562.9 L218.7,561.3 L220.7,559.8 L222.7,558.6 L224.7,557.4 L226.7,556.4 L228.7,555.4 L230.7,554.4 L232.7,553.6 L234.7,552.8 L236.7,552.1 L238.7,551.2 L240.7,550.1 L242.7,548.7 L244.7,546.7 L246.7,544.5 L248.7,542.3 L250.7,540.2 L252.7,538.1 L254.7,535.9 L256.7,533.9 L258.7,532.1 L260.7,530.5 L262.7,528.8 L264.7,527.8 L266.7,527.7 L268.7,527.7 L270.7,527.7 L272.7,527.7 L274.7,527.7 L276.7,527.7 L278.7,527.7 L280.7,527.7 L282.7,527.6 L284.7,527.6 L286.7,527.6 L288.7,527.6 L290.7,527.6 L292.7,527.6 L294.7,527.6 L296.7,527.6 L298.7,527.6 L300.7,527.6 L302.7,527.6 L304.7,527.6 L306.7,527.6 L308.7,527.6 L310.7,527.6 L312.7,527.5 L314.7,527.4 L316.7,527.2 L318.7,527.0 L320.7,526.8 L322.7,526.6 L324.7,526.3 L326.7,526.0 L328.8,525.6 L330.8,525.2 L332.8,524.7 L334.8,524.1 L336.8,523.4 L338.8,522.6 L340.8,521.3 L342.8,519.8 L344.8,518.1 L346.8,516.5 L348.8,515.3 L350.8,514.3 L352.8,513.5 L354.8,512.8 L356.8,512.1 L358.8,511.3 L360.8,510.3 L362.8,509.0 L364.8,507.1 L366.8,504.7 L368.8,502.0 L370.8,499.4 L372.8,497.2 L374.8,494.9 L376.8,492.7 L378.8,490.7 L380.8,489.3 L382.8,488.3 L384.8,487.6 L386.8,486.9 L388.8,486.3 L390.8,485.6 L392.8,484.8 L394.8,483.6 L396.8,482.0 L398.8,480.4 L400.8,478.8 L402.8,477.5 L404.8,476.2 L406.8,475.1 L408.8,474.2 L410.8,473.8 L412.8,473.6 L414.8,473.4 L416.8,473.3 L418.8,473.2 L420.8,473.1 L422.8,473.0 L424.8,472.9 L426.8,472.8 L428.8,472.7 L430.8,472.5 L432.8,472.3 L434.8,472.0 L436.8,471.4 L438.8,470.7 L440.8,469.9 L442.8,469.3 L444.8,468.9 L446.8,468.8 L448.8,468.8 L450.8,468.7 L452.8,468.6 L454.8,468.6 L456.9,468.6 L458.9,468.5 L460.9,468.5 L462.9,468.5 L464.9,468.5 L466.9,468.5 L468.9,468.5 L470.9,468.5 L472.9,468.5 L474.9,468.5 L476.9,468.5 L478.9,468.5 L480.9,468.5 L482.9,468.5 L484.9,468.5 L486.9,468.5 L488.9,468.5 L490.9,468.5 L492.9,468.5 L494.9,468.5 L496.9,468.5 L498.9,468.5 L500.9,468.5 L502.9,468.5 L504.9,468.4 L506.9,468.4 L508.9,468.3 L510.9,468.2 L512.9,468.1 L514.9,467.9 L516.9,467.8 L518.9,467.6 L520.9,467.2 L522.9,466.7 L524.9,466.2 L526.9,465.7 L528.9,465.1 L530.9,464.7 L532.9,464.3 L534.9,464.0 L536.9,463.7 L538.9,463.3 L540.9,462.9 L542.9,462.4 L544.9,461.8 L546.9,460.8 L548.9,459.6 L550.9,458.4 L552.9,457.2 L554.9,456.2 L556.9,455.4 L558.9,454.9 L560.9,454.6 L562.9,454.2 L564.9,453.9 L566.9,453.6 L568.9,453.2 L570.9,452.6 L572.9,451.9 L574.9,451.1 L576.9,450.3 L578.9,449.6 L580.9,449.0 L582.9,448.5 L584.9,448.3 L587.0,448.1 L589.0,447.9 L591.0,447.7 L593.0,447.6 L595.0,447.5 L597.0,447.3 L599.0,447.1 L601.0,446.9 L603.0,446.6 L605.0,446.2 L607.0,445.8 L609.0,445.4 L611.0,445.0 L613.0,444.7 L615.0,444.4 L617.0,444.2 L619.0,444.1 L621.0,444.0 L623.0,444.0 L625.0,443.9 L627.0,443.9 L629.0,443.9 L631.0,443.8 L633.0,443.7 L635.0,443.4 L637.0,442.5 L639.0,441.2 L641.0,439.8 L643.0,438.4 L645.0,436.6 L647.0,434.8 L649.0,433.2 L651.0,432.3 L653.0,431.8 L655.0,431.4 L657.0,431.2 L659.0,430.9 L661.0,430.7 L663.0,430.3 L665.0,429.9 L667.0,429.4 L669.0,428.9 L671.0,428.3 L673.0,427.7 L675.0,427.2 L677.0,426.8 L679.0,426.4 L681.0,426.2 L683.0,426.2 L685.0,426.1 L687.0,426.1 L689.0,426.1 L691.0,426.0 L693.0,426.0 L695.0,426.0 L697.0,426.0 L699.0,425.9 L701.0,425.9 L703.0,425.8 L705.0,425.8 L707.0,425.7 L709.0,425.6 L711.0,425.5 L713.0,425.4 L715.0,425.3 L717.1,425.2 L719.1,425.0 L721.1,424.8 L723.1,424.7 L725.1,424.5 L727.1,424.2 L729.1,424.0 L731.1,423.7 L733.1,423.1 L735.1,422.0 L737.1,420.6 L739.1,418.9 L741.1,417.0 L743.1,415.2 L745.1,413.4 L747.1,411.8 L749.1,410.5 L751.1,409.5 L753.1,408.5 L755.1,407.6 L757.1,407.1 L759.1,407.0 L761.1,407.0 L763.1,406.9 L765.1,406.9 L767.1,406.9 L769.1,406.9 L771.1,406.9 L773.1,406.8 L775.1,406.8 L777.1,406.8 L779.1,406.8 L781.1,406.8 L783.1,406.8 L785.1,406.8 L787.1,406.8 L789.1,406.8 L791.1,406.8 L793.1,406.8 L795.1,406.8 L797.1,406.8 L799.1,406.8 L801.1,406.8 L803.1,406.8 L805.1,406.8 L807.1,406.8 L809.1,406.8 L811.1,406.7 L813.1,406.7 L815.1,406.7 L817.1,406.7 L819.1,406.7 L821.1,406.7 L823.1,406.7 L825.1,406.7 L827.1,406.6 L829.1,406.6 L831.1,406.6 L833.1,406.5 L835.1,406.3 L837.1,406.1 L839.1,405.8 L841.1,405.5 L843.1,405.1 L845.1,404.8 L847.2,404.4 L849.2,403.9 L851.2,403.5 L853.2,403.1 L855.2,402.7 L857.2,402.3 L859.2,401.8 L861.2,401.3 L863.2,400.8 L865.2,400.1 L867.2,399.4 L869.2,398.5 L871.2,397.5 L873.2,395.9 L875.2,392.8 L877.2,388.9 L879.2,385.1 L881.2,382.4 L883.2,380.0 L885.2,377.6 L887.2,375.5 L889.2,373.6 L891.2,372.0 L893.2,371.0 L895.2,370.5 L897.2,370.2 L899.2,370.0 L901.2,369.7 L903.2,369.6 L905.2,369.4 L907.2,369.3 L909.2,369.2 L911.2,369.1 L913.2,369.0 L915.2,368.8 L917.2,368.6 L919.2,368.4 L921.2,368.1 L923.2,367.8 L925.2,367.2 L927.2,366.5 L929.2,365.7 L931.2,364.8 L933.2,363.8 L935.2,362.8 L937.2,361.7 L939.2,360.5 L941.2,359.1 L943.2,357.7 L945.2,356.5 L947.2,355.4 L949.2,354.6 L951.2,354.0 L953.2,353.4 L955.2,352.7 L957.2,351.8 L959.2,350.1 L961.2,346.8 L963.2,342.5 L965.2,338.2 L967.2,334.5 L969.2,330.5 L971.2,326.6 L973.2,323.5 L975.3,322.0 L977.3,321.2 L979.3,320.6 L981.3,320.2 L983.3,320.0 L985.3,319.9 L987.3,319.9 L989.3,319.8 L991.3,319.8 L993.3,319.8 L995.3,319.8 L997.3,319.7 L999.3,319.7 L1001.3,319.7 L1003.3,319.7 L1005.3,319.7 L1007.3,319.7 L1009.3,319.7 L1011.3,319.7 L1013.3,319.6 L1015.3,319.6 L1017.3,319.6 L1019.3,319.6 L1021.3,319.6 L1023.3,319.6 L1025.3,319.6 L1027.3,319.6 L1029.3,319.6 L1031.3,319.5 L1033.3,319.5 L1035.3,319.5 L1037.3,319.4 L1039.3,319.4 L1041.3,319.3 L1043.3,319.2 L1045.3,318.8 L1047.3,318.1 L1049.3,317.2 L1051.3,316.1 L1053.3,314.6 L1055.3,312.2 L1057.3,309.4 L1059.3,306.2 L1061.3,302.4 L1063.3,297.5 L1065.3,290.4 L1067.3,281.5 L1069.3,271.8 L1071.3,262.5 L1073.3,256.8 L1075.3,252.5 L1077.3,249.8 L1079.3,248.1 L1081.3,246.6 L1083.3,245.6 L1085.3,245.1 L1087.3,245.1 L1089.3,245.0 L1091.3,245.0 L1093.3,244.9 L1095.3,244.9 L1097.3,244.8 L1099.3,244.8 L1101.3,244.8 L1103.3,244.7 L1105.4,244.7 L1107.4,244.7 L1109.4,244.6 L1111.4,244.6 L1113.4,244.6 L1115.4,244.6 L1117.4,244.5 L1119.4,244.5 L1121.4,244.5 L1123.4,244.5 L1125.4,244.5 L1127.4,244.4 L1129.4,244.4 L1131.4,244.4 L1133.4,244.4 L1135.4,244.4 L1137.4,244.4 L1139.4,244.4 L1141.4,244.3 L1143.4,244.3 L1145.4,244.3 L1147.4,244.3 L1149.4,244.3 L1151.4,244.3 L1153.4,244.3 L1155.4,244.3 L1157.4,244.3 L1159.4,244.3 L1161.4,244.3 L1163.4,244.3 L1165.4,244.3 L1167.4,244.3 L1169.4,244.3"/>
<path d="M132.6,683.9 L134.6,683.0 L136.6,681.9 L138.6,680.7 L140.6,679.3 L142.6,677.9 L144.6,676.3 L146.6,674.6 L148.6,672.5 L150.6,670.2 L152.6,667.9 L154.6,665.6 L156.6,663.5 L158.6,661.5 L160.6,659.5 L162.6,657.5 L164.6,655.5 L166.6,653.5 L168.6,651.4 L170.6,649.3 L172.6,647.2 L174.6,645.1 L176.6,643.0 L178.6,640.8 L180.6,638.5 L182.6,636.1 L184.6,633.4 L186.6,630.5 L188.6,627.4 L190.6,624.3 L192.6,621.2 L194.6,617.8 L196.6,614.6 L198.7,612.4 L200.7,610.8 L202.7,609.4 L204.7,608.3 L206.7,607.5 L208.7,607.2 L210.7,607.0 L212.7,606.8 L214.7,606.7 L216.7,606.6 L218.7,606.5 L220.7,606.4 L222.7,606.4 L224.7,606.3 L226.7,606.3 L228.7,606.2 L230.7,606.2 L232.7,606.2 L234.7,606.1 L236.7,606.1 L238.7,606.1 L240.7,606.0 L242.7,606.0 L244.7,605.9 L246.7,605.8 L248.7,605.7 L250.7,605.6 L252.7,605.6 L254.7,605.5 L256.7,605.3 L258.7,605.2 L260.7,605.1 L262.7,604.9 L264.7,604.7 L266.7,604.4 L268.7,604.2 L270.7,603.9 L272.7,603.2 L274.7,602.3 L276.7,601.1 L278.7,599.7 L280.7,598.1 L282.7,596.3 L284.7,593.8 L286.7,590.7 L288.7,587.5 L290.7,584.6 L292.7,581.9 L294.7,579.2 L296.7,576.5 L298.7,574.0 L300.7,571.4 L302.7,568.9 L304.7,566.5 L306.7,564.3 L308.7,562.2 L310.7,560.2 L312.7,558.4 L314.7,557.0 L316.7,556.1 L318.7,555.3 L320.7,554.6 L322.7,554.1 L324.7,553.5 L326.7,552.9 L328.8,552.1 L330.8,551.2 L332.8,549.9 L334.8,548.6 L336.8,547.4 L338.8,546.7 L340.8,546.1 L342.8,545.6 L344.8,545.1 L346.8,544.7 L348.8,544.4 L350.8,544.0 L352.8,543.7 L354.8,543.4 L356.8,543.0 L358.8,542.7 L360.8,542.3 L362.8,541.9 L364.8,541.4 L366.8,540.8 L368.8,540.2 L370.8,539.6 L372.8,539.0 L374.8,538.4 L376.8,537.7 L378.8,537.1 L380.8,536.6 L382.8,536.0 L384.8,535.4 L386.8,534.9 L388.8,534.3 L390.8,533.8 L392.8,533.3 L394.8,532.9 L396.8,532.5 L398.8,532.1 L400.8,531.8 L402.8,531.5 L404.8,531.3 L406.8,531.1 L408.8,530.7 L410.8,530.2 L412.8,529.5 L414.8,528.8 L416.8,528.1 L418.8,527.5 L420.8,527.0 L422.8,526.4 L424.8,525.9 L426.8,525.4 L428.8,524.9 L430.8,524.5 L432.8,524.0 L434.8,523.5 L436.8,523.0 L438.8,522.5 L440.8,522.0 L442.8,521.7 L444.8,521.5 L446.8,521.4 L448.8,521.3 L450.8,521.3 L452.8,521.2 L454.8,521.2 L456.9,521.1 L458.9,521.1 L460.9,521.0 L462.9,520.9 L464.9,520.7 L466.9,520.4 L468.9,520.0 L470.9,519.4 L472.9,518.6 L474.9,517.3 L476.9,515.0 L478.9,512.8 L480.9,511.2 L482.9,509.7 L484.9,508.4 L486.9,507.7 L488.9,507.5 L490.9,507.4 L492.9,507.2 L494.9,507.1 L496.9,507.0 L498.9,507.0 L500.9,506.9 L502.9,506.8 L504.9,506.8 L506.9,506.7 L508.9,506.6 L510.9,506.4 L512.9,506.3 L514.9,506.1 L516.9,505.9 L518.9,505.7 L520.9,505.5 L522.9,505.3 L524.9,505.0 L526.9,504.8 L528.9,504.5 L530.9,504.2 L532.9,504.0 L534.9,503.7 L536.9,503.4 L538.9,503.1 L540.9,502.9 L542.9,502.6 L544.9,502.3 L546.9,502.0 L548.9,501.7 L550.9,501.4 L552.9,501.0 L554.9,500.7 L556.9,500.3 L558.9,500.0 L560.9,499.6 L562.9,499.3 L564.9,498.9 L566.9,498.6 L568.9,498.2 L570.9,497.8 L572.9,497.4 L574.9,497.1 L576.9,496.7 L578.9,496.3 L580.9,495.8 L582.9,495.4 L584.9,495.0 L587.0,494.6 L589.0,494.2 L591.0,493.8 L593.0,493.4 L595.0,493.1 L597.0,492.7 L599.0,492.2 L601.0,491.8 L603.0,491.3 L605.0,490.7 L607.0,490.1 L609.0,489.3 L611.0,488.5 L613.0,487.0 L615.0,485.0 L617.0,483.0 L619.0,481.3 L621.0,480.5 L623.0,480.0 L625.0,479.5 L627.0,479.2 L629.0,479.0 L631.0,479.0 L633.0,478.9 L635.0,478.9 L637.0,478.9 L639.0,478.8 L641.0,478.8 L643.0,478.8 L645.0,478.8 L647.0,478.8 L649.0,478.8 L651.0,478.8 L653.0,478.8 L655.0,478.7 L657.0,478.7 L659.0,478.7 L661.0,478.7 L663.0,478.7 L665.0,478.7 L667.0,478.7 L669.0,478.7 L671.0,478.7 L673.0,478.7 L675.0,478.7 L677.0,478.6 L679.0,478.6 L681.0,478.6 L683.0,478.5 L685.0,478.5 L687.0,478.3 L689.0,477.8 L691.0,477.2 L693.0,476.5 L695.0,475.8 L697.0,475.2 L699.0,474.8 L701.0,474.6 L703.0,474.5 L705.0,474.4 L707.0,474.3 L709.0,474.2 L711.0,474.2 L713.0,474.1 L715.0,474.0 L717.1,474.0 L719.1,474.0 L721.1,474.0 L723.1,474.0 L725.1,474.0 L727.1,474.0 L729.1,474.0 L731.1,474.0 L733.1,474.0 L735.1,474.0 L737.1,474.0 L739.1,474.0 L741.1,474.0 L743.1,474.0 L745.1,474.0 L747.1,474.0 L749.1,474.0 L751.1,474.0 L753.1,474.0 L755.1,474.0 L757.1,474.0 L759.1,474.0 L761.1,474.0 L763.1,474.0 L765.1,474.0 L767.1,474.0 L769.1,474.0 L771.1,474.0 L773.1,474.0 L775.1,474.0 L777.1,474.0 L779.1,474.0 L781.1,474.0 L783.1,474.0 L785.1,474.0 L787.1,474.0 L789.1,474.0 L791.1,474.0 L793.1,474.0 L795.1,474.0 L797.1,474.0 L799.1,474.0 L801.1,474.0 L803.1,474.0 L805.1,474.0 L807.1,474.0 L809.1,474.0 L811.1,474.0 L813.1,474.0 L815.1,474.0 L817.1,474.0 L819.1,474.0 L821.1,474.0 L823.1,474.0 L825.1,474.0 L827.1,474.0 L829.1,474.0 L831.1,474.0 L833.1,473.9 L835.1,473.8 L837.1,473.7 L839.1,473.5 L841.1,473.2 L843.1,473.0 L845.1,472.7 L847.2,472.4 L849.2,472.0 L851.2,471.7 L853.2,471.3 L855.2,470.9 L857.2,470.5 L859.2,470.2 L861.2,469.8 L863.2,469.3 L865.2,468.8 L867.2,468.2 L869.2,467.5 L871.2,466.9 L873.2,466.2 L875.2,465.5 L877.2,464.9 L879.2,464.3 L881.2,463.7 L883.2,463.1 L885.2,462.6 L887.2,462.0 L889.2,461.5 L891.2,461.0 L893.2,460.4 L895.2,459.8 L897.2,459.1 L899.2,458.3 L901.2,457.4 L903.2,456.2 L905.2,454.9 L907.2,453.5 L909.2,452.4 L911.2,451.5 L913.2,450.7 L915.2,450.0 L917.2,449.4 L919.2,448.8 L921.2,448.2 L923.2,447.6 L925.2,446.9 L927.2,446.3 L929.2,445.6 L931.2,445.0 L933.2,444.3 L935.2,443.7 L937.2,443.0 L939.2,442.3 L941.2,441.5 L943.2,440.7 L945.2,439.9 L947.2,439.0 L949.2,438.2 L951.2,437.4 L953.2,436.6 L955.2,435.9 L957.2,435.3 L959.2,434.6 L961.2,434.0 L963.2,433.4 L965.2,432.8 L967.2,432.3 L969.2,431.9 L971.2,431.6 L973.2,431.4 L975.3,431.3 L977.3,431.2 L979.3,431.1 L981.3,431.1 L983.3,431.0 L985.3,430.9 L987.3,430.8 L989.3,430.5 L991.3,429.8 L993.3,429.0 L995.3,428.0 L997.3,427.0 L999.3,426.0 L1001.3,425.1 L1003.3,424.2 L1005.3,423.2 L1007.3,422.1 L1009.3,421.0 L1011.3,419.8 L1013.3,418.4 L1015.3,416.8 L1017.3,414.9 L1019.3,412.7 L1021.3,410.3 L1023.3,407.4 L1025.3,403.8 L1027.3,400.1 L1029.3,396.1 L1031.3,392.7 L1033.3,391.1 L1035.3,389.9 L1037.3,389.0 L1039.3,388.3 L1041.3,387.5 L1043.3,387.0 L1045.3,386.3 L1047.3,385.2 L1049.3,383.7 L1051.3,381.7 L1053.3,379.4 L1055.3,376.9 L1057.3,374.2 L1059.3,371.1 L1061.3,367.5 L1063.3,363.5 L1065.3,358.7 L1067.3,352.9 L1069.3,346.9 L1071.3,341.8 L1073.3,336.7 L1075.3,328.7 L1077.3,321.0 L1079.3,316.9 L1081.3,313.9 L1083.3,311.7 L1085.3,310.1 L1087.3,308.6 L1089.3,307.2 L1091.3,305.6 L1093.3,303.9 L1095.3,302.3 L1097.3,300.9 L1099.3,299.8 L1101.3,298.8 L1103.3,298.1 L1105.4,297.3 L1107.4,296.5 L1109.4,295.7 L1111.4,294.9 L1113.4,294.0 L1115.4,293.1 L1117.4,292.2 L1119.4,291.2 L1121.4,290.0 L1123.4,288.7 L1125.4,287.4 L1127.4,286.2 L1129.4,285.5 L1131.4,285.1 L1133.4,284.8 L1135.4,284.6 L1137.4,284.4 L1139.4,284.3 L1141.4,284.1 L1143.4,283.8 L1145.4,283.4 L1147.4,282.7 L1149.4,281.9 L1151.4,281.1 L1153.4,280.5 L1155.4,280.3 L1157.4,280.2 L1159.4,280.1 L1161.4,280.0 L1163.4,279.9 L1165.4,279.8 L1167.4,279.8 L1169.4,279.8"/>
<path d="M132.6,683.9 L134.6,682.7 L136.6,681.4 L138.6,680.1 L140.6,678.7 L142.6,677.4 L144.6,676.0 L146.6,674.5 L148.6,673.0 L150.6,671.5 L152.6,670.0 L154.6,668.4 L156.6,666.8 L158.6,665.1 L160.6,663.4 L162.6,661.6 L164.6,659.9 L166.6,658.1 L168.6,656.3 L170.6,654.4 L172.6,652.5 L174.6,650.6 L176.6,648.7 L178.6,646.7 L180.6,644.7 L182.6,642.7 L184.6,640.6 L186.6,638.5 L188.6,636.4 L190.6,634.3 L192.6,632.2 L194.6,630.0 L196.6,627.7 L198.7,625.5 L200.7,623.2 L202.7,620.8 L204.7,618.4 L206.7,615.9 L208.7,613.4 L210.7,610.7 L212.7,608.1 L214.7,605.4 L216.7,602.8 L218.7,599.9 L220.7,597.2 L222.7,594.6 L224.7,592.3 L226.7,590.4 L228.7,588.7 L230.7,587.2 L232.7,585.7 L234.7,584.3 L236.7,583.1 L238.7,581.9 L240.7,580.7 L242.7,579.7 L244.7,578.7 L246.7,577.9 L248.7,577.3 L250.7,576.8 L252.7,576.4 L254.7,576.1 L256.7,575.8 L258.7,575.5 L260.7,575.1 L262.7,574.6 L264.7,573.9 L266.7,573.1 L268.7,571.4 L270.7,568.4 L272.7,564.9 L274.7,560.5 L276.7,557.2 L278.7,554.9 L280.7,553.0 L282.7,551.5 L284.7,550.5 L286.7,549.8 L288.7,549.3 L290.7,548.8 L292.7,548.0 L294.7,545.8 L296.7,541.4 L298.7,537.1 L300.7,534.8 L302.7,533.2 L304.7,531.8 L306.7,530.3 L308.7,528.5 L310.7,526.5 L312.7,524.4 L314.7,522.5 L316.7,520.8 L318.7,519.4 L320.7,518.1 L322.7,516.9 L324.7,516.0 L326.7,515.4 L328.8,515.2 L330.8,515.0 L332.8,514.8 L334.8,514.7 L336.8,514.6 L338.8,514.5 L340.8,514.5 L342.8,514.4 L344.8,514.2 L346.8,514.1 L348.8,513.9 L350.8,513.5 L352.8,513.0 L354.8,512.4 L356.8,511.8 L358.8,511.2 L360.8,510.7 L362.8,510.3 L364.8,510.0 L366.8,509.8 L368.8,509.6 L370.8,509.4 L372.8,509.3 L374.8,509.1 L376.8,508.9 L378.8,508.8 L380.8,508.7 L382.8,508.6 L384.8,508.4 L386.8,508.3 L388.8,508.2 L390.8,508.1 L392.8,508.1 L394.8,508.0 L396.8,507.9 L398.8,507.8 L400.8,507.8 L402.8,507.7 L404.8,507.6 L406.8,507.6 L408.8,507.5 L410.8,507.5 L412.8,507.5 L414.8,507.5 L416.8,507.4 L418.8,507.4 L420.8,507.4 L422.8,507.3 L424.8,507.3 L426.8,507.2 L428.8,507.2 L430.8,507.1 L432.8,507.0 L434.8,506.8 L436.8,506.1 L438.8,505.1 L440.8,504.0 L442.8,502.8 L444.8,501.5 L446.8,499.8 L448.8,498.0 L450.8,496.1 L452.8,494.0 L454.8,491.5 L456.9,489.2 L458.9,487.9 L460.9,486.8 L462.9,486.0 L464.9,485.9 L466.9,485.8 L468.9,485.8 L470.9,485.7 L472.9,485.7 L474.9,485.7 L476.9,485.7 L478.9,485.6 L480.9,485.6 L482.9,485.6 L484.9,485.6 L486.9,485.6 L488.9,485.6 L490.9,485.5 L492.9,485.5 L494.9,485.5 L496.9,485.5 L498.9,485.5 L500.9,485.5 L502.9,485.5 L504.9,485.5 L506.9,485.4 L508.9,485.4 L510.9,485.4 L512.9,485.4 L514.9,485.3 L516.9,485.3 L518.9,485.3 L520.9,485.3 L522.9,485.3 L524.9,485.2 L526.9,485.2 L528.9,485.2 L530.9,485.2 L532.9,485.2 L534.9,485.1 L536.9,485.1 L538.9,485.1 L540.9,485.1 L542.9,485.0 L544.9,485.0 L546.9,485.0 L548.9,485.0 L550.9,484.9 L552.9,484.9 L554.9,484.9 L556.9,484.8 L558.9,484.8 L560.9,484.7 L562.9,484.7 L564.9,484.6 L566.9,484.6 L568.9,484.5 L570.9,484.4 L572.9,484.4 L574.9,484.3 L576.9,484.2 L578.9,484.0 L580.9,483.7 L582.9,483.3 L584.9,482.7 L587.0,482.2 L589.0,481.3 L591.0,480.2 L593.0,479.0 L595.0,478.0 L597.0,477.2 L599.0,476.3 L601.0,475.6 L603.0,475.0 L605.0,474.7 L607.0,474.5 L609.0,474.4 L611.0,474.4 L613.0,474.3 L615.0,474.2 L617.0,474.2 L619.0,474.1 L621.0,474.0 L623.0,473.9 L625.0,473.7 L627.0,473.3 L629.0,472.8 L631.0,472.2 L633.0,471.7 L635.0,471.2 L637.0,470.9 L639.0,470.8 L641.0,470.8 L643.0,470.8 L645.0,470.7 L647.0,470.7 L649.0,470.7 L651.0,470.7 L653.0,470.7 L655.0,470.7 L657.0,470.6 L659.0,470.6 L661.0,470.6 L663.0,470.6 L665.0,470.6 L667.0,470.6 L669.0,470.6 L671.0,470.6 L673.0,470.6 L675.0,470.6 L677.0,470.6 L679.0,470.6 L681.0,470.6 L683.0,470.6 L685.0,470.6 L687.0,470.6 L689.0,470.5 L691.0,470.5 L693.0,470.5 L695.0,470.5 L697.0,470.5 L699.0,470.5 L701.0,470.5 L703.0,470.5 L705.0,470.5 L707.0,470.5 L709.0,470.5 L711.0,470.4 L713.0,470.4 L715.0,470.4 L717.1,470.4 L719.1,470.4 L721.1,470.4 L723.1,470.4 L725.1,470.4 L727.1,470.4 L729.1,470.4 L731.1,470.4 L733.1,470.4 L735.1,470.4 L737.1,470.3 L739.1,470.3 L741.1,470.3 L743.1,470.3 L745.1,470.3 L747.1,470.3 L749.1,470.3 L751.1,470.3 L753.1,470.3 L755.1,470.3 L757.1,470.3 L759.1,470.2 L761.1,470.2 L763.1,470.2 L765.1,470.2 L767.1,470.2 L769.1,470.2 L771.1,470.2 L773.1,470.2 L775.1,470.1 L777.1,470.1 L779.1,470.1 L781.1,470.1 L783.1,470.1 L785.1,470.1 L787.1,470.0 L789.1,470.0 L791.1,470.0 L793.1,470.0 L795.1,469.9 L797.1,469.9 L799.1,469.8 L801.1,469.7 L803.1,469.7 L805.1,469.6 L807.1,469.5 L809.1,469.4 L811.1,469.3 L813.1,469.2 L815.1,469.1 L817.1,469.0 L819.1,468.8 L821.1,468.7 L823.1,468.5 L825.1,468.4 L827.1,468.2 L829.1,468.1 L831.1,467.9 L833.1,467.6 L835.1,467.3 L837.1,466.9 L839.1,466.4 L841.1,465.9 L843.1,465.5 L845.1,465.0 L847.2,464.5 L849.2,464.2 L851.2,463.8 L853.2,463.5 L855.2,463.2 L857.2,462.9 L859.2,462.7 L861.2,462.4 L863.2,462.1 L865.2,461.8 L867.2,461.5 L869.2,461.2 L871.2,460.8 L873.2,460.4 L875.2,460.0 L877.2,459.6 L879.2,459.1 L881.2,458.7 L883.2,458.2 L885.2,457.6 L887.2,457.0 L889.2,456.3 L891.2,455.5 L893.2,454.5 L895.2,453.3 L897.2,452.0 L899.2,450.6 L901.2,449.0 L903.2,447.1 L905.2,445.4 L907.2,444.6 L909.2,444.0 L911.2,443.6 L913.2,443.3 L915.2,442.9 L917.2,442.6 L919.2,442.2 L921.2,441.7 L923.2,441.2 L925.2,440.6 L927.2,440.1 L929.2,439.5 L931.2,438.9 L933.2,438.3 L935.2,437.6 L937.2,437.0 L939.2,436.3 L941.2,435.5 L943.2,434.7 L945.2,433.8 L947.2,432.9 L949.2,432.0 L951.2,431.2 L953.2,430.7 L955.2,430.2 L957.2,429.7 L959.2,429.3 L961.2,428.9 L963.2,428.5 L965.2,427.9 L967.2,427.2 L969.2,426.3 L971.2,425.5 L973.2,425.2 L975.3,425.1 L977.3,425.0 L979.3,424.9 L981.3,424.9 L983.3,424.9 L985.3,424.8 L987.3,424.8 L989.3,424.7 L991.3,424.6 L993.3,424.1 L995.3,423.2 L997.3,422.0 L999.3,420.7 L1001.3,419.5 L1003.3,418.5 L1005.3,417.6 L1007.3,416.9 L1009.3,416.2 L1011.3,415.5 L1013.3,414.7 L1015.3,413.7 L1017.3,412.5 L1019.3,411.1 L1021.3,409.4 L1023.3,407.3 L1025.3,404.1 L1027.3,398.4 L1029.3,392.4 L1031.3,387.1 L1033.3,381.9 L1035.3,378.3 L1037.3,376.8 L1039.3,375.7 L1041.3,375.0 L1043.3,374.4 L1045.3,374.1 L1047.3,373.9 L1049.3,373.7 L1051.3,373.4 L1053.3,372.9 L1055.3,371.8 L1057.3,370.2 L1059.3,368.5 L1061.3,367.1 L1063.3,365.8 L1065.3,364.5 L1067.3,363.0 L1069.3,361.4 L1071.3,359.6 L1073.3,357.7 L1075.3,355.1 L1077.3,351.7 L1079.3,343.7 L1081.3,335.9 L1083.3,333.2 L1085.3,332.4 L1087.3,331.9 L1089.3,331.5 L1091.3,331.2 L1093.3,330.6 L1095.3,330.0 L1097.3,329.4 L1099.3,328.7 L1101.3,328.0 L1103.3,327.1 L1105.4,326.1 L1107.4,324.7 L1109.4,323.0 L1111.4,321.0 L1113.4,318.9 L1115.4,316.8 L1117.4,314.6 L1119.4,312.1 L1121.4,309.8 L1123.4,307.9 L1125.4,306.6 L1127.4,305.7 L1129.4,304.8 L1131.4,303.9 L1133.4,302.8 L1135.4,301.5 L1137.4,300.1 L1139.4,298.0 L1141.4,293.8 L1143.4,289.4 L1145.4,287.1 L1147.4,285.2 L1149.4,283.5 L1151.4,282.2 L1153.4,281.3 L1155.4,281.0 L1157.4,280.8 L1159.4,280.7 L1161.4,280.7 L1163.4,280.6 L1165.4,280.5 L1167.4,280.5 L1169.4,280.5"/>
<path d="M132.6,683.9 L134.6,683.9 L136.6,683.8 L138.6,683.8 L140.6,683.7 L142.6,683.7 L144.6,683.6 L146.6,683.5 L148.6,683.5 L150.6,683.4 L152.6,683.3 L154.6,683.2 L156.6,683.1 L158.6,683.1 L160.6,683.0 L162.6,682.9 L164.6,682.8 L166.6,682.7 L168.6,682.6 L170.6,682.5 L172.6,682.5 L174.6,682.3 L176.7,682.2 L178.7,682.1 L180.7,682.0 L182.7,681.8 L184.7,681.6 L186.7,681.4 L188.7,681.2 L190.7,680.9 L192.7,680.5 L194.7,679.8 L196.7,678.9 L198.7,677.0 L200.7,670.5 L202.7,664.1 L204.7,659.1 L206.7,653.9 L208.7,647.6 L210.7,639.5 L212.7,630.9 L214.7,623.8 L216.7,618.1 L218.7,612.9 L220.7,605.4 L222.7,596.5 L224.7,587.9 L226.7,582.9 L228.7,579.6 L230.7,577.1 L232.7,575.2 L234.7,573.5 L236.7,572.0 L238.7,570.9 L240.7,570.1 L242.7,569.7 L244.7,569.3 L246.7,569.0 L248.7,568.8 L250.7,568.6 L252.7,568.5 L254.7,568.5 L256.7,568.4 L258.7,568.4 L260.7,568.4 L262.8,568.3 L264.8,568.3 L266.8,568.3 L268.8,568.3 L270.8,568.2 L272.8,568.2 L274.8,568.2 L276.8,568.2 L278.8,568.2 L280.8,568.2 L282.8,568.2 L284.8,568.2 L286.8,568.1 L288.8,568.1 L290.8,568.1 L292.8,568.1 L294.8,568.1 L296.8,568.0 L298.8,568.0 L300.8,568.0 L302.8,568.0 L304.8,567.9 L306.8,567.9 L308.8,567.8 L310.8,567.8 L312.8,567.7 L314.8,567.7 L316.8,567.6 L318.8,567.5 L320.8,567.5 L322.8,567.4 L324.8,567.3 L326.8,567.2 L328.8,567.1 L330.8,566.9 L332.8,566.7 L334.8,566.3 L336.8,565.9 L338.8,565.4 L340.8,564.8 L342.8,564.2 L344.8,563.5 L346.8,562.9 L348.9,562.3 L350.9,561.8 L352.9,561.2 L354.9,560.6 L356.9,560.0 L358.9,559.4 L360.9,558.8 L362.9,558.2 L364.9,557.6 L366.9,556.9 L368.9,556.3 L370.9,555.7 L372.9,555.1 L374.9,554.5 L376.9,553.9 L378.9,553.3 L380.9,552.7 L382.9,552.1 L384.9,551.5 L386.9,550.9 L388.9,550.3 L390.9,549.7 L392.9,549.1 L394.9,548.5 L396.9,547.9 L398.9,547.3 L400.9,546.7 L402.9,546.1 L404.9,545.5 L406.9,544.9 L408.9,544.3 L410.9,543.7 L412.9,543.1 L414.9,542.5 L416.9,541.9 L418.9,541.3 L420.9,540.7 L422.9,540.1 L424.9,539.5 L426.9,538.9 L428.9,538.3 L430.9,537.7 L432.9,537.1 L434.9,536.5 L437.0,535.9 L439.0,535.3 L441.0,534.7 L443.0,534.1 L445.0,533.5 L447.0,532.9 L449.0,532.3 L451.0,531.7 L453.0,531.1 L455.0,530.5 L457.0,529.9 L459.0,529.3 L461.0,528.7 L463.0,528.1 L465.0,527.6 L467.0,527.1 L469.0,526.7 L471.0,526.3 L473.0,526.0 L475.0,525.7 L477.0,525.4 L479.0,525.1 L481.0,524.8 L483.0,524.6 L485.0,524.4 L487.0,524.1 L489.0,523.9 L491.0,523.7 L493.0,523.5 L495.0,523.2 L497.0,523.0 L499.0,522.8 L501.0,522.6 L503.0,522.3 L505.0,522.1 L507.0,521.9 L509.0,521.7 L511.0,521.5 L513.0,521.3 L515.0,521.2 L517.0,521.0 L519.0,520.8 L521.0,520.7 L523.1,520.5 L525.1,520.3 L527.1,520.0 L529.1,519.8 L531.1,519.5 L533.1,519.2 L535.1,518.9 L537.1,518.6 L539.1,518.1 L541.1,517.4 L543.1,516.1 L545.1,514.8 L547.1,514.1 L549.1,514.0 L551.1,513.9 L553.1,513.9 L555.1,513.8 L557.1,513.8 L559.1,513.8 L561.1,513.7 L563.1,513.7 L565.1,513.7 L567.1,513.6 L569.1,513.6 L571.1,513.6 L573.1,513.6 L575.1,513.6 L577.1,513.6 L579.1,513.5 L581.1,513.5 L583.1,513.5 L585.1,513.5 L587.1,513.5 L589.1,513.5 L591.1,513.5 L593.1,513.5 L595.1,513.5 L597.1,513.5 L599.1,513.5 L601.1,513.5 L603.1,513.5 L605.1,513.5 L607.1,513.5 L609.2,513.5 L611.2,513.5 L613.2,513.5 L615.2,513.4 L617.2,513.4 L619.2,513.4 L621.2,513.4 L623.2,513.4 L625.2,513.4 L627.2,513.4 L629.2,513.4 L631.2,513.3 L633.2,513.3 L635.2,513.3 L637.2,513.3 L639.2,513.2 L641.2,513.2 L643.2,513.2 L645.2,513.1 L647.2,513.1 L649.2,513.0 L651.2,512.9 L653.2,512.1 L655.2,510.8 L657.2,509.3 L659.2,507.7 L661.2,506.5 L663.2,505.7 L665.2,505.5 L667.2,505.5 L669.2,505.4 L671.2,505.4 L673.2,505.3 L675.2,505.3 L677.2,505.3 L679.2,505.2 L681.2,505.2 L683.2,505.2 L685.2,505.2 L687.2,505.2 L689.2,505.2 L691.2,505.1 L693.2,505.1 L695.3,505.1 L697.3,505.1 L699.3,505.0 L701.3,505.0 L703.3,504.9 L705.3,504.8 L707.3,504.6 L709.3,504.0 L711.3,503.1 L713.3,502.1 L715.3,501.2 L717.3,500.4 L719.3,500.0 L721.3,499.9 L723.3,499.8 L725.3,499.8 L727.3,499.7 L729.3,499.7 L731.3,499.6 L733.3,499.6 L735.3,499.5 L737.3,499.5 L739.3,499.4 L741.3,499.4 L743.3,499.4 L745.3,499.4 L747.3,499.3 L749.3,499.3 L751.3,499.3 L753.3,499.3 L755.3,499.3 L757.3,499.3 L759.3,499.2 L761.3,499.2 L763.3,499.2 L765.3,499.2 L767.3,499.2 L769.3,499.1 L771.3,499.1 L773.3,499.1 L775.3,499.1 L777.3,499.0 L779.3,499.0 L781.4,498.9 L783.4,498.9 L785.4,498.8 L787.4,498.8 L789.4,498.7 L791.4,498.6 L793.4,498.5 L795.4,498.3 L797.4,498.2 L799.4,498.0 L801.4,497.7 L803.4,497.5 L805.4,497.3 L807.4,497.0 L809.4,496.7 L811.4,496.4 L813.4,496.1 L815.4,495.8 L817.4,495.3 L819.4,494.8 L821.4,494.3 L823.4,493.7 L825.4,493.1 L827.4,492.5 L829.4,492.0 L831.4,491.4 L833.4,490.8 L835.4,490.3 L837.4,489.7 L839.4,489.1 L841.4,488.5 L843.4,487.9 L845.4,487.4 L847.4,486.8 L849.4,486.2 L851.4,485.6 L853.4,485.0 L855.4,484.4 L857.4,483.8 L859.4,483.2 L861.4,482.6 L863.4,482.0 L865.4,481.4 L867.5,480.8 L869.5,480.2 L871.5,479.5 L873.5,478.9 L875.5,478.3 L877.5,477.6 L879.5,477.0 L881.5,476.3 L883.5,475.7 L885.5,475.0 L887.5,474.4 L889.5,473.7 L891.5,473.0 L893.5,472.3 L895.5,471.6 L897.5,470.9 L899.5,470.2 L901.5,469.4 L903.5,468.7 L905.5,467.9 L907.5,467.1 L909.5,466.2 L911.5,465.4 L913.5,464.5 L915.5,463.7 L917.5,462.9 L919.5,462.0 L921.5,461.2 L923.5,460.4 L925.5,459.6 L927.5,458.9 L929.5,458.2 L931.5,457.5 L933.5,456.8 L935.5,456.1 L937.5,455.4 L939.5,454.7 L941.5,454.1 L943.5,453.5 L945.5,453.0 L947.5,452.5 L949.5,452.1 L951.5,451.7 L953.5,451.4 L955.6,451.1 L957.6,450.8 L959.6,450.6 L961.6,450.3 L963.6,450.1 L965.6,449.9 L967.6,449.7 L969.6,449.5 L971.6,449.4 L973.6,449.3 L975.6,449.2 L977.6,449.1 L979.6,449.0 L981.6,449.0 L983.6,448.9 L985.6,448.8 L987.6,448.8 L989.6,448.8 L991.6,448.7 L993.6,448.7 L995.6,448.6 L997.6,448.6 L999.6,448.5 L1001.6,448.4 L1003.6,448.3 L1005.6,448.2 L1007.6,448.0 L1009.6,447.7 L1011.6,447.3 L1013.6,446.7 L1015.6,446.1 L1017.6,445.5 L1019.6,444.9 L1021.6,444.4 L1023.6,444.0 L1025.6,443.7 L1027.6,443.4 L1029.6,443.1 L1031.6,442.7 L1033.6,442.1 L1035.6,440.9 L1037.6,438.5 L1039.6,435.3 L1041.7,431.7 L1043.7,426.6 L1045.7,421.2 L1047.7,417.7 L1049.7,414.9 L1051.7,412.9 L1053.7,411.8 L1055.7,411.2 L1057.7,410.7 L1059.7,410.2 L1061.7,409.8 L1063.7,409.2 L1065.7,407.4 L1067.7,404.7 L1069.7,402.6 L1071.7,400.9 L1073.7,399.3 L1075.7,397.7 L1077.7,395.9 L1079.7,393.9 L1081.7,391.9 L1083.7,389.8 L1085.7,388.0 L1087.7,386.3 L1089.7,384.7 L1091.7,383.2 L1093.7,381.8 L1095.7,380.5 L1097.7,379.4 L1099.7,378.1 L1101.7,376.5 L1103.7,374.1 L1105.7,371.0 L1107.7,367.7 L1109.7,364.5 L1111.7,361.1 L1113.7,358.3 L1115.7,356.5 L1117.7,355.0 L1119.7,353.8 L1121.7,352.7 L1123.7,351.5 L1125.7,350.3 L1127.8,349.0 L1129.8,347.8 L1131.8,346.6 L1133.8,345.5 L1135.8,344.5 L1137.8,343.6 L1139.8,342.8 L1141.8,342.2 L1143.8,341.5 L1145.8,340.9 L1147.8,340.4 L1149.8,339.9 L1151.8,339.5 L1153.8,339.1 L1155.8,338.8 L1157.8,338.4 L1159.8,338.1 L1161.8,337.8 L1163.8,337.6 L1165.8,337.3 L1167.8,337.1 L1169.8,337.0"/>
<path d="M132.6,683.9 L134.6,683.9 L136.6,683.9 L138.6,683.8 L140.6,683.8 L142.6,683.8 L144.6,683.7 L146.6,683.7 L148.6,683.6 L150.6,683.6 L152.6,683.5 L154.6,683.5 L156.6,683.4 L158.6,683.4 L160.6,683.3 L162.6,683.2 L164.6,683.2 L166.6,683.1 L168.6,683.0 L170.6,683.0 L172.6,682.9 L174.6,682.8 L176.7,682.8 L178.7,682.7 L180.7,682.6 L182.7,682.5 L184.7,682.4 L186.7,682.3 L188.7,682.1 L190.7,681.9 L192.7,681.7 L194.7,681.3 L196.7,680.9 L198.7,680.4 L200.7,679.8 L202.7,678.7 L204.7,677.3 L206.7,675.9 L208.7,674.6 L210.7,673.7 L212.7,673.1 L214.7,672.5 L216.7,671.9 L218.7,671.4 L220.7,671.0 L222.7,670.5 L224.7,670.1 L226.7,669.7 L228.7,669.3 L230.7,668.8 L232.7,668.4 L234.7,668.1 L236.7,667.8 L238.7,667.4 L240.7,667.1 L242.7,666.7 L244.7,666.3 L246.7,665.9 L248.7,665.4 L250.7,664.7 L252.7,663.7 L254.7,662.4 L256.7,661.0 L258.7,659.7 L260.7,658.5 L262.8,657.7 L264.8,657.1 L266.8,656.5 L268.8,656.0 L270.8,655.5 L272.8,655.2 L274.8,654.9 L276.8,654.7 L278.8,654.5 L280.8,654.4 L282.8,654.2 L284.8,654.1 L286.8,653.9 L288.8,653.7 L290.8,653.5 L292.8,653.2 L294.8,652.9 L296.8,652.6 L298.8,652.2 L300.8,651.8 L302.8,651.4 L304.8,650.9 L306.8,650.3 L308.8,649.7 L310.8,649.0 L312.8,648.1 L314.8,647.0 L316.8,645.8 L318.8,644.4 L320.8,642.4 L322.8,640.2 L324.8,638.3 L326.8,636.5 L328.8,634.7 L330.8,633.1 L332.8,631.5 L334.8,630.1 L336.8,628.8 L338.8,627.6 L340.8,626.4 L342.8,625.2 L344.8,624.2 L346.8,623.3 L348.9,622.4 L350.9,621.7 L352.9,621.1 L354.9,620.6 L356.9,620.1 L358.9,619.7 L360.9,619.3 L362.9,618.9 L364.9,618.4 L366.9,617.9 L368.9,617.4 L370.9,616.7 L372.9,615.9 L374.9,615.0 L376.9,614.0 L378.9,612.9 L380.9,611.8 L382.9,610.7 L384.9,609.6 L386.9,608.5 L388.9,607.5 L390.9,606.6 L392.9,605.7 L394.9,604.7 L396.9,603.7 L398.9,602.8 L400.9,601.9 L402.9,601.1 L404.9,600.3 L406.9,599.7 L408.9,599.2 L410.9,598.9 L412.9,598.6 L414.9,598.3 L416.9,598.1 L418.9,597.9 L420.9,597.7 L422.9,597.5 L424.9,597.3 L426.9,597.2 L428.9,597.0 L430.9,596.9 L432.9,596.7 L434.9,596.5 L437.0,596.3 L439.0,596.1 L441.0,595.9 L443.0,595.6 L445.0,595.3 L447.0,595.0 L449.0,594.7 L451.0,594.4 L453.0,594.1 L455.0,593.8 L457.0,593.4 L459.0,593.1 L461.0,592.8 L463.0,592.5 L465.0,592.2 L467.0,591.9 L469.0,591.6 L471.0,591.4 L473.0,591.2 L475.0,591.0 L477.0,590.8 L479.0,590.6 L481.0,590.4 L483.0,590.2 L485.0,590.0 L487.0,589.9 L489.0,589.7 L491.0,589.5 L493.0,589.3 L495.0,589.1 L497.0,588.9 L499.0,588.6 L501.0,588.4 L503.0,588.1 L505.0,587.8 L507.0,587.5 L509.0,587.2 L511.0,586.8 L513.0,586.3 L515.0,585.5 L517.0,584.0 L519.0,582.1 L521.0,580.5 L523.1,579.6 L525.1,579.0 L527.1,578.5 L529.1,578.0 L531.1,577.6 L533.1,577.2 L535.1,576.9 L537.1,576.5 L539.1,576.2 L541.1,575.8 L543.1,575.4 L545.1,575.0 L547.1,574.6 L549.1,574.2 L551.1,573.9 L553.1,573.6 L555.1,573.3 L557.1,573.1 L559.1,572.9 L561.1,572.8 L563.1,572.8 L565.1,572.7 L567.1,572.6 L569.1,572.5 L571.1,572.2 L573.1,571.7 L575.1,571.0 L577.1,570.1 L579.1,569.2 L581.1,568.3 L583.1,567.6 L585.1,566.7 L587.1,565.8 L589.1,564.9 L591.1,564.1 L593.1,563.6 L595.1,563.4 L597.1,563.2 L599.1,563.0 L601.1,562.9 L603.1,562.8 L605.1,562.7 L607.1,562.6 L609.2,562.5 L611.2,562.4 L613.2,562.3 L615.2,562.2 L617.2,562.1 L619.2,562.0 L621.2,561.9 L623.2,561.8 L625.2,561.7 L627.2,561.7 L629.2,561.6 L631.2,561.5 L633.2,561.4 L635.2,561.3 L637.2,561.2 L639.2,561.1 L641.2,561.0 L643.2,560.8 L645.2,560.7 L647.2,560.5 L649.2,560.3 L651.2,560.0 L653.2,559.6 L655.2,559.1 L657.2,558.6 L659.2,558.0 L661.2,557.5 L663.2,556.9 L665.2,556.4 L667.2,556.0 L669.2,555.6 L671.2,555.3 L673.2,554.9 L675.2,554.6 L677.2,554.3 L679.2,554.0 L681.2,553.8 L683.2,553.5 L685.2,553.3 L687.2,553.1 L689.2,553.0 L691.2,552.8 L693.2,552.7 L695.3,552.7 L697.3,552.6 L699.3,552.5 L701.3,552.5 L703.3,552.4 L705.3,552.4 L707.3,552.4 L709.3,552.3 L711.3,552.3 L713.3,552.3 L715.3,552.3 L717.3,552.2 L719.3,552.2 L721.3,552.2 L723.3,552.2 L725.3,552.2 L727.3,552.1 L729.3,552.1 L731.3,552.1 L733.3,552.0 L735.3,552.0 L737.3,552.0 L739.3,551.9 L741.3,551.9 L743.3,551.8 L745.3,551.7 L747.3,551.7 L749.3,551.6 L751.3,551.5 L753.3,551.4 L755.3,550.9 L757.3,550.0 L759.3,548.9 L761.3,547.7 L763.3,546.6 L765.3,545.7 L767.3,545.2 L769.3,544.7 L771.3,544.3 L773.3,544.0 L775.3,543.7 L777.3,543.4 L779.3,543.1 L781.4,542.8 L783.4,542.6 L785.4,542.4 L787.4,542.2 L789.4,542.1 L791.4,541.9 L793.4,541.8 L795.4,541.6 L797.4,541.5 L799.4,541.4 L801.4,541.3 L803.4,541.2 L805.4,541.1 L807.4,541.1 L809.4,541.0 L811.4,540.9 L813.4,540.8 L815.4,540.8 L817.4,540.7 L819.4,540.6 L821.4,540.5 L823.4,540.4 L825.4,540.3 L827.4,540.2 L829.4,540.0 L831.4,539.9 L833.4,539.8 L835.4,539.6 L837.4,539.5 L839.4,539.3 L841.4,539.1 L843.4,538.9 L845.4,538.6 L847.4,538.4 L849.4,538.1 L851.4,537.7 L853.4,537.2 L855.4,536.6 L857.4,535.8 L859.4,535.1 L861.4,534.2 L863.4,533.4 L865.4,532.4 L867.5,530.7 L869.5,528.3 L871.5,525.6 L873.5,523.2 L875.5,520.4 L877.5,517.9 L879.5,516.2 L881.5,515.5 L883.5,515.1 L885.5,514.7 L887.5,514.4 L889.5,514.1 L891.5,513.8 L893.5,513.6 L895.5,513.4 L897.5,513.2 L899.5,513.0 L901.5,512.7 L903.5,512.3 L905.5,511.8 L907.5,510.3 L909.5,507.9 L911.5,505.0 L913.5,502.0 L915.5,499.4 L917.5,496.8 L919.5,494.1 L921.5,491.5 L923.5,489.3 L925.5,487.6 L927.5,486.2 L929.5,484.9 L931.5,483.7 L933.5,482.6 L935.5,481.6 L937.5,480.8 L939.5,480.1 L941.5,479.6 L943.5,479.0 L945.5,478.6 L947.5,478.1 L949.5,477.7 L951.5,477.4 L953.5,477.2 L955.6,476.9 L957.6,476.8 L959.6,476.6 L961.6,476.4 L963.6,476.3 L965.6,476.1 L967.6,476.0 L969.6,476.0 L971.6,475.9 L973.6,475.9 L975.6,475.9 L977.6,475.9 L979.6,475.9 L981.6,475.9 L983.6,475.9 L985.6,475.9 L987.6,475.9 L989.6,475.9 L991.6,475.9 L993.6,475.9 L995.6,475.9 L997.6,475.9 L999.6,475.6 L1001.6,475.2 L1003.6,474.6 L1005.6,473.9 L1007.6,473.3 L1009.6,472.7 L1011.6,472.3 L1013.6,471.8 L1015.6,471.3 L1017.6,470.8 L1019.6,470.4 L1021.6,470.1 L1023.6,469.9 L1025.6,469.7 L1027.6,469.6 L1029.6,469.4 L1031.6,469.1 L1033.6,468.4 L1035.6,467.1 L1037.6,465.4 L1039.6,463.3 L1041.7,460.0 L1043.7,455.7 L1045.7,451.0 L1047.7,446.4 L1049.7,441.3 L1051.7,436.4 L1053.7,431.6 L1055.7,426.8 L1057.7,422.2 L1059.7,417.8 L1061.7,413.3 L1063.7,409.2 L1065.7,406.4 L1067.7,404.5 L1069.7,400.4 L1071.7,394.8 L1073.7,388.3 L1075.7,384.9 L1077.7,382.6 L1079.7,381.1 L1081.7,380.5 L1083.7,380.2 L1085.7,380.0 L1087.7,379.9 L1089.7,379.7 L1091.7,379.5 L1093.7,379.1 L1095.7,378.8 L1097.7,378.4 L1099.7,377.8 L1101.7,377.1 L1103.7,375.9 L1105.7,373.6 L1107.7,370.8 L1109.7,366.5 L1111.7,360.5 L1113.7,355.5 L1115.7,351.1 L1117.7,348.1 L1119.7,345.9 L1121.7,344.3 L1123.7,343.6 L1125.7,343.5 L1127.8,343.3 L1129.8,343.2 L1131.8,343.1 L1133.8,343.0 L1135.8,342.9 L1137.8,342.8 L1139.8,342.7 L1141.8,342.7 L1143.8,342.6 L1145.8,342.6 L1147.8,342.5 L1149.8,342.5 L1151.8,342.4 L1153.8,342.4 L1155.8,342.4 L1157.8,342.4 L1159.8,342.3 L1161.8,342.3 L1163.8,342.3 L1165.8,342.3 L1167.8,342.3 L1169.8,342.3"/>
<path d="M132.6,683.9 L134.6,683.4 L136.6,682.8 L138.6,682.1 L140.6,681.5 L142.6,680.8 L144.6,680.1 L146.6,679.3 L148.6,678.6 L150.6,677.7 L152.6,676.9 L154.6,675.9 L156.6,674.9 L158.6,673.8 L160.6,672.8 L162.6,671.7 L164.6,670.6 L166.6,669.6 L168.6,668.6 L170.6,667.7 L172.6,666.9 L174.6,666.0 L176.7,665.2 L178.7,664.4 L180.7,663.6 L182.7,662.9 L184.7,662.1 L186.7,661.3 L188.7,660.5 L190.7,659.7 L192.7,658.9 L194.7,658.1 L196.7,657.3 L198.7,656.5 L200.7,655.7 L202.7,654.8 L204.7,654.1 L206.7,653.3 L208.7,652.5 L210.7,651.7 L212.7,651.0 L214.7,650.2 L216.7,649.5 L218.7,648.8 L220.7,648.0 L222.7,647.3 L224.7,646.7 L226.7,646.0 L228.7,645.4 L230.7,644.8 L232.7,644.2 L234.7,643.7 L236.7,643.2 L238.7,642.6 L240.7,642.1 L242.7,641.7 L244.7,641.2 L246.7,640.7 L248.7,640.3 L250.7,639.8 L252.7,639.4 L254.7,639.0 L256.7,638.6 L258.7,638.3 L260.7,637.9 L262.8,637.5 L264.8,637.1 L266.8,636.7 L268.8,636.3 L270.8,635.8 L272.8,635.3 L274.8,634.8 L276.8,634.2 L278.8,633.6 L280.8,633.0 L282.8,632.4 L284.8,631.7 L286.8,631.1 L288.8,630.4 L290.8,629.7 L292.8,629.0 L294.8,628.3 L296.8,627.5 L298.8,626.7 L300.8,625.9 L302.8,625.1 L304.8,624.3 L306.8,623.4 L308.8,622.5 L310.8,621.6 L312.8,620.7 L314.8,619.7 L316.8,618.6 L318.8,617.6 L320.8,616.5 L322.8,615.4 L324.8,614.4 L326.8,613.4 L328.8,612.5 L330.8,611.7 L332.8,610.9 L334.8,610.1 L336.8,609.4 L338.8,608.7 L340.8,608.1 L342.8,607.4 L344.8,606.7 L346.8,606.1 L348.9,605.4 L350.9,604.7 L352.9,604.0 L354.9,603.3 L356.9,602.6 L358.9,601.9 L360.9,601.3 L362.9,600.6 L364.9,599.9 L366.9,599.1 L368.9,598.4 L370.9,597.7 L372.9,596.9 L374.9,596.1 L376.9,595.3 L378.9,594.5 L380.9,593.7 L382.9,592.9 L384.9,592.1 L386.9,591.3 L388.9,590.4 L390.9,589.6 L392.9,588.8 L394.9,588.0 L396.9,587.2 L398.9,586.4 L400.9,585.6 L402.9,584.8 L404.9,584.0 L406.9,583.2 L408.9,582.4 L410.9,581.7 L412.9,580.9 L414.9,580.2 L416.9,579.5 L418.9,578.8 L420.9,578.1 L422.9,577.4 L424.9,576.7 L426.9,576.1 L428.9,575.4 L430.9,574.7 L432.9,574.0 L434.9,573.2 L437.0,572.5 L439.0,571.8 L441.0,571.1 L443.0,570.4 L445.0,569.7 L447.0,569.0 L449.0,568.3 L451.0,567.7 L453.0,567.0 L455.0,566.3 L457.0,565.7 L459.0,565.0 L461.0,564.4 L463.0,563.7 L465.0,563.2 L467.0,562.7 L469.0,562.2 L471.0,561.8 L473.0,561.5 L475.0,561.3 L477.0,561.0 L479.0,560.8 L481.0,560.5 L483.0,560.2 L485.0,559.8 L487.0,559.2 L489.0,558.5 L491.0,557.7 L493.0,556.9 L495.0,555.9 L497.0,554.9 L499.0,553.9 L501.0,552.9 L503.0,552.0 L505.0,551.0 L507.0,550.2 L509.0,549.4 L511.0,548.8 L513.0,548.2 L515.0,547.7 L517.0,547.2 L519.0,546.6 L521.0,546.2 L523.1,545.7 L525.1,545.2 L527.1,544.8 L529.1,544.4 L531.1,544.1 L533.1,543.8 L535.1,543.5 L537.1,543.2 L539.1,543.0 L541.1,542.9 L543.1,542.7 L545.1,542.6 L547.1,542.5 L549.1,542.4 L551.1,542.3 L553.1,542.2 L555.1,542.1 L557.1,542.0 L559.1,542.0 L561.1,541.9 L563.1,541.8 L565.1,541.8 L567.1,541.7 L569.1,541.6 L571.1,541.5 L573.1,541.4 L575.1,541.3 L577.1,541.1 L579.1,541.0 L581.1,540.8 L583.1,540.5 L585.1,540.2 L587.1,539.8 L589.1,539.3 L591.1,538.7 L593.1,538.0 L595.1,537.3 L597.1,536.6 L599.1,535.8 L601.1,535.0 L603.1,534.2 L605.1,533.4 L607.1,532.6 L609.2,531.8 L611.2,531.1 L613.2,530.3 L615.2,529.5 L617.2,528.7 L619.2,527.7 L621.2,526.6 L623.2,525.3 L625.2,523.8 L627.2,521.2 L629.2,517.0 L631.2,511.9 L633.2,507.0 L635.2,503.1 L637.2,500.8 L639.2,498.9 L641.2,497.3 L643.2,495.9 L645.2,495.0 L647.2,494.5 L649.2,494.4 L651.2,494.3 L653.2,494.2 L655.2,494.2 L657.2,494.1 L659.2,494.0 L661.2,494.0 L663.2,493.9 L665.2,493.9 L667.2,493.9 L669.2,493.8 L671.2,493.8 L673.2,493.8 L675.2,493.8 L677.2,493.8 L679.2,493.8 L681.2,493.7 L683.2,493.7 L685.2,493.7 L687.2,493.7 L689.2,493.7 L691.2,493.7 L693.2,493.7 L695.3,493.6 L697.3,493.6 L699.3,493.6 L701.3,493.6 L703.3,493.5 L705.3,493.5 L707.3,493.4 L709.3,493.4 L711.3,493.3 L713.3,493.3 L715.3,493.2 L717.3,493.1 L719.3,493.0 L721.3,492.7 L723.3,492.0 L725.3,490.9 L727.3,489.5 L729.3,488.1 L731.3,486.5 L733.3,485.1 L735.3,483.9 L737.3,482.9 L739.3,481.8 L741.3,480.8 L743.3,479.8 L745.3,478.8 L747.3,478.0 L749.3,477.3 L751.3,476.8 L753.3,476.5 L755.3,476.2 L757.3,476.0 L759.3,475.9 L761.3,475.7 L763.3,475.6 L765.3,475.5 L767.3,475.4 L769.3,475.3 L771.3,475.2 L773.3,475.1 L775.3,475.0 L777.3,474.9 L779.3,474.8 L781.4,474.7 L783.4,474.6 L785.4,474.6 L787.4,474.5 L789.4,474.4 L791.4,474.3 L793.4,474.3 L795.4,474.2 L797.4,474.2 L799.4,474.1 L801.4,474.0 L803.4,474.0 L805.4,473.9 L807.4,473.9 L809.4,473.8 L811.4,473.7 L813.4,473.7 L815.4,473.6 L817.4,473.5 L819.4,473.5 L821.4,473.4 L823.4,473.3 L825.4,473.2 L827.4,473.1 L829.4,473.0 L831.4,472.9 L833.4,472.8 L835.4,472.7 L837.4,472.6 L839.4,472.5 L841.4,472.4 L843.4,472.2 L845.4,472.1 L847.4,472.0 L849.4,471.8 L851.4,471.7 L853.4,471.5 L855.4,471.4 L857.4,471.2 L859.4,471.0 L861.4,470.8 L863.4,470.7 L865.4,470.5 L867.5,470.3 L869.5,470.1 L871.5,469.8 L873.5,469.6 L875.5,469.3 L877.5,469.0 L879.5,468.6 L881.5,468.2 L883.5,467.9 L885.5,467.5 L887.5,467.1 L889.5,466.7 L891.5,466.4 L893.5,466.0 L895.5,465.7 L897.5,465.3 L899.5,465.1 L901.5,464.8 L903.5,464.6 L905.5,464.3 L907.5,464.1 L909.5,463.9 L911.5,463.6 L913.5,463.4 L915.5,463.2 L917.5,463.0 L919.5,462.8 L921.5,462.6 L923.5,462.4 L925.5,462.2 L927.5,462.0 L929.5,461.8 L931.5,461.7 L933.5,461.5 L935.5,461.3 L937.5,461.2 L939.5,461.0 L941.5,460.9 L943.5,460.8 L945.5,460.7 L947.5,460.6 L949.5,460.5 L951.5,460.4 L953.5,460.3 L955.6,460.2 L957.6,460.1 L959.6,460.1 L961.6,460.0 L963.6,459.9 L965.6,459.8 L967.6,459.6 L969.6,459.5 L971.6,459.3 L973.6,459.1 L975.6,458.9 L977.6,458.5 L979.6,458.0 L981.6,457.5 L983.6,456.9 L985.6,456.4 L987.6,456.0 L989.6,455.7 L991.6,455.4 L993.6,455.3 L995.6,455.2 L997.6,455.1 L999.6,455.0 L1001.6,454.9 L1003.6,454.8 L1005.6,454.7 L1007.6,454.5 L1009.6,454.3 L1011.6,453.6 L1013.6,452.5 L1015.6,451.3 L1017.6,450.1 L1019.6,448.8 L1021.6,447.5 L1023.6,446.1 L1025.6,444.9 L1027.6,444.0 L1029.6,443.3 L1031.6,442.7 L1033.6,442.0 L1035.6,441.2 L1037.6,439.8 L1039.6,437.6 L1041.7,434.9 L1043.7,432.4 L1045.7,430.2 L1047.7,428.2 L1049.7,426.2 L1051.7,424.4 L1053.7,422.8 L1055.7,421.3 L1057.7,419.6 L1059.7,417.4 L1061.7,414.0 L1063.7,410.4 L1065.7,407.7 L1067.7,405.6 L1069.7,403.7 L1071.7,401.9 L1073.7,400.2 L1075.7,398.5 L1077.7,397.0 L1079.7,395.4 L1081.7,393.7 L1083.7,391.8 L1085.7,390.0 L1087.7,388.3 L1089.7,387.0 L1091.7,386.0 L1093.7,385.2 L1095.7,384.5 L1097.7,383.8 L1099.7,383.2 L1101.7,382.5 L1103.7,381.8 L1105.7,381.2 L1107.7,380.6 L1109.7,380.0 L1111.7,379.4 L1113.7,378.7 L1115.7,377.9 L1117.7,376.9 L1119.7,375.8 L1121.7,374.4 L1123.7,373.0 L1125.7,371.0 L1127.8,368.7 L1129.8,366.6 L1131.8,365.1 L1133.8,364.1 L1135.8,363.3 L1137.8,362.7 L1139.8,362.3 L1141.8,362.0 L1143.8,361.8 L1145.8,361.6 L1147.8,361.4 L1149.8,361.1 L1151.8,360.7 L1153.8,359.6 L1155.8,357.8 L1157.8,355.9 L1159.8,354.0 L1161.8,352.5 L1163.8,351.5 L1165.8,350.6 L1167.8,349.9 L1169.8,349.3"/>
<path d="M132.6,683.9 L134.6,674.0 L136.6,668.6 L138.6,664.6 L140.6,661.1 L142.6,657.9 L144.6,655.1 L146.6,652.5 L148.6,650.0 L150.6,647.5 L152.6,645.2 L154.6,642.8 L156.6,640.5 L158.6,638.3 L160.6,636.1 L162.6,633.7 L164.6,631.2 L166.6,628.2 L168.6,624.9 L170.7,621.4 L172.7,617.9 L174.7,614.5 L176.7,611.0 L178.7,607.6 L180.7,604.6 L182.7,602.3 L184.7,600.4 L186.7,599.2 L188.7,598.5 L190.7,597.9 L192.7,597.7 L194.7,597.5 L196.7,597.3 L198.7,597.2 L200.7,597.1 L202.7,597.0 L204.7,597.0 L206.7,596.9 L208.7,596.8 L210.7,596.7 L212.7,596.5 L214.7,596.4 L216.7,596.1 L218.7,595.7 L220.7,595.1 L222.7,594.4 L224.7,593.6 L226.7,592.5 L228.7,590.9 L230.7,589.0 L232.7,587.1 L234.7,585.5 L236.7,584.0 L238.7,582.6 L240.7,581.4 L242.7,580.4 L244.8,579.9 L246.8,579.6 L248.8,579.4 L250.8,579.2 L252.8,579.0 L254.8,578.9 L256.8,578.7 L258.8,578.5 L260.8,578.1 L262.8,577.7 L264.8,576.6 L266.8,575.0 L268.8,572.9 L270.8,570.0 L272.8,566.2 L274.8,561.6 L276.8,556.5 L278.8,553.5 L280.8,551.4 L282.8,549.9 L284.8,549.0 L286.8,548.4 L288.8,547.9 L290.8,547.5 L292.8,547.2 L294.8,546.9 L296.8,546.6 L298.8,546.3 L300.8,546.0 L302.8,545.7 L304.8,545.5 L306.8,545.3 L308.8,545.0 L310.8,544.7 L312.8,544.4 L314.8,543.9 L316.8,542.9 L318.9,541.4 L320.9,540.1 L322.9,539.0 L324.9,538.0 L326.9,537.2 L328.9,537.0 L330.9,537.0 L332.9,537.0 L334.9,537.0 L336.9,537.0 L338.9,537.0 L340.9,537.0 L342.9,537.0 L344.9,537.0 L346.9,537.0 L348.9,537.0 L350.9,537.0 L352.9,537.0 L354.9,537.0 L356.9,537.0 L358.9,537.0 L360.9,537.0 L362.9,537.0 L364.9,537.0 L366.9,537.0 L368.9,537.0 L370.9,537.0 L372.9,537.0 L374.9,537.0 L376.9,537.0 L378.9,537.0 L380.9,536.9 L382.9,536.6 L384.9,536.1 L386.9,535.5 L388.9,534.1 L390.9,531.6 L393.0,529.4 L395.0,527.8 L397.0,526.3 L399.0,524.9 L401.0,523.7 L403.0,522.9 L405.0,522.3 L407.0,521.8 L409.0,521.4 L411.0,521.0 L413.0,520.6 L415.0,520.2 L417.0,519.6 L419.0,518.8 L421.0,517.7 L423.0,516.4 L425.0,515.1 L427.0,513.9 L429.0,512.8 L431.0,511.6 L433.0,510.6 L435.0,509.7 L437.0,509.1 L439.0,508.6 L441.0,508.2 L443.0,507.9 L445.0,507.7 L447.0,507.7 L449.0,507.7 L451.0,507.7 L453.0,507.7 L455.0,507.7 L457.0,507.7 L459.0,507.7 L461.0,507.7 L463.0,507.7 L465.0,507.7 L467.1,507.7 L469.1,507.7 L471.1,507.7 L473.1,507.7 L475.1,507.7 L477.1,507.7 L479.1,507.7 L481.1,507.7 L483.1,507.7 L485.1,507.7 L487.1,507.7 L489.1,507.7 L491.1,507.7 L493.1,507.7 L495.1,507.7 L497.1,507.7 L499.1,507.7 L501.1,507.7 L503.1,507.7 L505.1,507.7 L507.1,507.7 L509.1,507.7 L511.1,507.7 L513.1,507.7 L515.1,507.6 L517.1,507.5 L519.1,507.3 L521.1,507.1 L523.1,507.0 L525.1,506.7 L527.1,506.5 L529.1,506.3 L531.1,506.1 L533.1,505.8 L535.1,505.6 L537.1,505.3 L539.1,505.1 L541.2,504.9 L543.2,504.7 L545.2,504.4 L547.2,504.2 L549.2,504.0 L551.2,503.7 L553.2,503.5 L555.2,503.2 L557.2,502.9 L559.2,502.7 L561.2,502.4 L563.2,502.1 L565.2,501.8 L567.2,501.4 L569.2,501.1 L571.2,500.7 L573.2,500.4 L575.2,500.0 L577.2,499.5 L579.2,499.0 L581.2,498.5 L583.2,497.9 L585.2,497.2 L587.2,496.6 L589.2,495.9 L591.2,495.3 L593.2,494.6 L595.2,493.9 L597.2,493.1 L599.2,492.3 L601.2,491.4 L603.2,490.4 L605.2,489.4 L607.2,488.4 L609.2,487.5 L611.2,486.9 L613.2,485.9 L615.3,482.9 L617.3,479.1 L619.3,478.0 L621.3,477.3 L623.3,477.0 L625.3,476.9 L627.3,476.9 L629.3,476.8 L631.3,476.8 L633.3,476.7 L635.3,476.7 L637.3,476.7 L639.3,476.7 L641.3,476.7 L643.3,476.6 L645.3,476.6 L647.3,476.6 L649.3,476.6 L651.3,476.6 L653.3,476.6 L655.3,476.6 L657.3,476.6 L659.3,476.6 L661.3,476.6 L663.3,476.6 L665.3,476.5 L667.3,476.5 L669.3,476.5 L671.3,476.5 L673.3,476.4 L675.3,476.4 L677.3,476.3 L679.3,476.3 L681.3,476.2 L683.3,475.8 L685.3,474.5 L687.3,473.0 L689.3,471.6 L691.4,470.5 L693.4,469.4 L695.4,468.3 L697.4,467.5 L699.4,467.0 L701.4,467.0 L703.4,466.9 L705.4,466.9 L707.4,466.9 L709.4,466.9 L711.4,466.8 L713.4,466.8 L715.4,466.8 L717.4,466.8 L719.4,466.7 L721.4,466.7 L723.4,466.7 L725.4,466.7 L727.4,466.7 L729.4,466.7 L731.4,466.7 L733.4,466.7 L735.4,466.7 L737.4,466.7 L739.4,466.7 L741.4,466.7 L743.4,466.7 L745.4,466.7 L747.4,466.6 L749.4,466.6 L751.4,466.6 L753.4,466.6 L755.4,466.6 L757.4,466.6 L759.4,466.6 L761.4,466.6 L763.4,466.6 L765.5,466.6 L767.5,466.6 L769.5,466.6 L771.5,466.6 L773.5,466.6 L775.5,466.6 L777.5,466.5 L779.5,466.5 L781.5,466.5 L783.5,466.5 L785.5,466.5 L787.5,466.5 L789.5,466.4 L791.5,466.4 L793.5,466.4 L795.5,466.3 L797.5,466.3 L799.5,465.8 L801.5,464.8 L803.5,463.4 L805.5,461.9 L807.5,460.4 L809.5,459.2 L811.5,458.3 L813.5,457.7 L815.5,457.0 L817.5,456.5 L819.5,455.9 L821.5,455.4 L823.5,455.0 L825.5,454.6 L827.5,454.2 L829.5,453.9 L831.5,453.5 L833.5,453.2 L835.5,452.9 L837.5,452.6 L839.6,452.3 L841.6,452.1 L843.6,452.0 L845.6,452.0 L847.6,452.0 L849.6,452.0 L851.6,452.0 L853.6,452.0 L855.6,452.0 L857.6,452.0 L859.6,452.0 L861.6,452.0 L863.6,452.0 L865.6,452.0 L867.6,452.0 L869.6,452.0 L871.6,452.0 L873.6,452.0 L875.6,452.0 L877.6,452.0 L879.6,452.0 L881.6,452.0 L883.6,452.0 L885.6,452.0 L887.6,452.0 L889.6,452.0 L891.6,452.0 L893.6,452.0 L895.6,452.0 L897.6,452.0 L899.6,452.0 L901.6,452.0 L903.6,452.0 L905.6,452.0 L907.6,452.0 L909.6,452.0 L911.6,452.0 L913.7,452.0 L915.7,452.0 L917.7,452.0 L919.7,452.0 L921.7,452.0 L923.7,452.0 L925.7,452.0 L927.7,452.0 L929.7,452.0 L931.7,452.0 L933.7,452.0 L935.7,452.0 L937.7,452.0 L939.7,452.0 L941.7,451.9 L943.7,451.5 L945.7,450.9 L947.7,450.3 L949.7,449.5 L951.7,448.9 L953.7,448.3 L955.7,447.9 L957.7,447.5 L959.7,447.2 L961.7,446.9 L963.7,446.7 L965.7,446.4 L967.7,446.2 L969.7,446.0 L971.7,445.7 L973.7,445.5 L975.7,445.3 L977.7,445.1 L979.7,444.8 L981.7,444.6 L983.7,444.4 L985.7,444.1 L987.8,443.9 L989.8,443.8 L991.8,443.6 L993.8,443.5 L995.8,443.4 L997.8,443.4 L999.8,443.4 L1001.8,443.3 L1003.8,443.3 L1005.8,443.3 L1007.8,443.3 L1009.8,443.2 L1011.8,443.2 L1013.8,443.2 L1015.8,443.2 L1017.8,443.2 L1019.8,443.1 L1021.8,443.1 L1023.8,443.1 L1025.8,443.1 L1027.8,443.1 L1029.8,443.1 L1031.8,443.1 L1033.8,443.1 L1035.8,443.1 L1037.8,443.1 L1039.8,443.1 L1041.8,443.1 L1043.8,443.1 L1045.8,443.1 L1047.8,443.1 L1049.8,443.1 L1051.8,443.1 L1053.8,443.1 L1055.8,443.1 L1057.8,443.1 L1059.8,443.1 L1061.9,443.1 L1063.9,443.1 L1065.9,443.1 L1067.9,443.1 L1069.9,443.1 L1071.9,443.1 L1073.9,443.0 L1075.9,442.9 L1077.9,442.7 L1079.9,442.5 L1081.9,442.2 L1083.9,441.8 L1085.9,441.5 L1087.9,441.1 L1089.9,440.6 L1091.9,440.1 L1093.9,439.4 L1095.9,438.4 L1097.9,437.3 L1099.9,435.6 L1101.9,433.2 L1103.9,430.1 L1105.9,426.7 L1107.9,422.1 L1109.9,416.7 L1111.9,412.3 L1113.9,409.0 L1115.9,406.2 L1117.9,404.2 L1119.9,402.6 L1121.9,401.3 L1123.9,400.9 L1125.9,400.9 L1127.9,400.9 L1129.9,400.9 L1131.9,400.9 L1133.9,400.9 L1136.0,400.9 L1138.0,400.9 L1140.0,400.9 L1142.0,400.8 L1144.0,400.6 L1146.0,400.3 L1148.0,400.0 L1150.0,399.6 L1152.0,399.1 L1154.0,397.9 L1156.0,396.1 L1158.0,394.1 L1160.0,392.3 L1162.0,390.1 L1164.0,388.0 L1166.0,386.1 L1168.0,384.6 L1170.0,383.4 L1172.0,382.4"/>
</g>
<path d="M132.6,683.9 L139.3,678.9 L148.5,670.2 L158.4,660.4 L167.0,654.8 L179.4,647.4 L191.7,639.4 L200.4,632.0 L206.5,627.0 L214.0,622.1 L218.9,616.5 L223.8,612.8 L234.9,609.1 L247.3,605.1 L253.5,600.5 L259.6,597.4 L268.3,596.4 L278.1,593.1 L282.5,591.0 L291.1,586.7 L296.0,581.7 L304.7,579.3 L310.9,574.3 L317.0,567.5 L323.2,565.1 L333.1,562.6 L339.3,558.3 L347.9,557.0 L354.1,553.3 L364.0,552.1 L371.4,547.8 L378.8,544.7 L387.4,543.5 L393.6,539.8 L399.8,536.0 L408.4,533.8 L415.8,532.3 L425.7,531.7 L433.1,529.3 L441.1,526.8 L451.0,524.9 L460.0,523.6 L474.0,523.4 L490.0,519.0 L510.0,517.6 L520.0,516.4 L540.0,511.0 L560.0,506.4 L570.0,506.4 L580.0,504.0 L600.0,497.0 L614.0,491.0 L630.0,489.0 L640.0,485.0 L660.0,482.0 L680.0,480.0 L696.0,478.6 L720.0,478.0 L740.0,474.4 L760.0,472.4 L780.0,471.0 L800.0,469.6 L810.0,468.0 L820.0,465.7 L836.0,463.0 L850.9,457.5 L874.3,455.6 L878.0,452.5 L881.7,449.7 L892.8,448.8 L896.5,445.1 L904.0,438.3 L908.9,437.3 L918.8,435.2 L931.1,431.9 L937.3,428.5 L948.4,420.1 L954.0,418.0 L966.9,417.7 L970.0,414.9 L973.0,413.0 L980.0,412.8 L992.7,411.9 L1005.5,408.4 L1018.2,405.3 L1025.8,401.4 L1030.9,395.7 L1038.5,391.3 L1046.2,384.9 L1053.8,379.8 L1058.9,372.2 L1064.0,364.5 L1069.1,355.6 L1072.9,346.7 L1076.1,339.1 L1080.5,332.7 L1086.9,327.0 L1093.2,323.3 L1103.1,319.4 L1107.4,315.7 L1111.7,305.2 L1115.4,300.9 L1125.2,296.6 L1129.5,293.2 L1140.0,291.9 L1150.0,287.4 L1160.0,283.0 L1169.0,281.0" fill="none" stroke="#fff" stroke-width="6" stroke-linejoin="round"/>
<path d="M132.6,683.9 L139.3,678.9 L148.5,670.2 L158.4,660.4 L167.0,654.8 L179.4,647.4 L191.7,639.4 L200.4,632.0 L206.5,627.0 L214.0,622.1 L218.9,616.5 L223.8,612.8 L234.9,609.1 L247.3,605.1 L253.5,600.5 L259.6,597.4 L268.3,596.4 L278.1,593.1 L282.5,591.0 L291.1,586.7 L296.0,581.7 L304.7,579.3 L310.9,574.3 L317.0,567.5 L323.2,565.1 L333.1,562.6 L339.3,558.3 L347.9,557.0 L354.1,553.3 L364.0,552.1 L371.4,547.8 L378.8,544.7 L387.4,543.5 L393.6,539.8 L399.8,536.0 L408.4,533.8 L415.8,532.3 L425.7,531.7 L433.1,529.3 L441.1,526.8 L451.0,524.9 L460.0,523.6 L474.0,523.4 L490.0,519.0 L510.0,517.6 L520.0,516.4 L540.0,511.0 L560.0,506.4 L570.0,506.4 L580.0,504.0 L600.0,497.0 L614.0,491.0 L630.0,489.0 L640.0,485.0 L660.0,482.0 L680.0,480.0 L696.0,478.6 L720.0,478.0 L740.0,474.4 L760.0,472.4 L780.0,471.0 L800.0,469.6 L810.0,468.0 L820.0,465.7 L836.0,463.0 L850.9,457.5 L874.3,455.6 L878.0,452.5 L881.7,449.7 L892.8,448.8 L896.5,445.1 L904.0,438.3 L908.9,437.3 L918.8,435.2 L931.1,431.9 L937.3,428.5 L948.4,420.1 L954.0,418.0 L966.9,417.7 L970.0,414.9 L973.0,413.0 L973.0,478.0 L971.0,479.3 L969.0,480.6 L967.0,482.0 L965.0,483.3 L963.0,484.7 L961.0,486.1 L959.0,487.6 L957.0,489.0 L955.0,490.4 L953.0,491.7 L951.0,493.1 L949.0,494.3 L947.0,495.3 L945.0,495.8 L943.0,496.1 L941.0,496.3 L939.0,496.5 L937.0,496.7 L935.0,496.9 L933.0,497.1 L931.0,497.4 L929.0,497.9 L927.0,498.9 L925.0,500.3 L923.0,501.9 L921.0,504.1 L919.0,506.7 L917.0,509.5 L915.0,512.8 L913.0,516.4 L911.0,519.8 L909.0,523.4 L907.0,526.7 L905.0,529.3 L903.0,531.6 L901.0,533.4 L899.0,534.6 L897.0,535.6 L895.0,536.5 L893.0,537.2 L891.0,537.6 L888.9,537.6 L886.9,537.6 L884.9,537.6 L882.9,537.6 L880.9,537.6 L878.9,537.6 L876.9,537.6 L874.9,537.6 L872.9,537.6 L870.9,537.6 L868.9,537.6 L866.9,537.6 L864.9,537.6 L862.9,537.6 L860.9,537.6 L858.9,537.6 L856.9,537.6 L854.9,537.6 L852.9,537.6 L850.9,537.6 L848.9,537.6 L846.9,537.6 L844.9,537.6 L842.9,537.6 L840.9,537.6 L838.9,537.6 L836.9,537.6 L834.9,537.6 L832.9,537.6 L830.9,537.6 L828.9,537.6 L826.9,537.6 L824.9,537.6 L822.9,537.7 L820.9,537.7 L818.9,537.7 L816.9,537.8 L814.9,537.8 L812.9,537.9 L810.9,538.0 L808.9,538.1 L806.9,538.2 L804.9,538.4 L802.9,538.7 L800.9,539.0 L798.9,539.2 L796.9,539.5 L794.9,539.7 L792.9,539.9 L790.9,540.0 L788.9,540.0 L786.9,540.0 L784.9,540.0 L782.9,540.0 L780.9,540.0 L778.9,540.0 L776.9,540.0 L774.9,540.0 L772.9,540.0 L770.9,540.0 L768.9,540.0 L766.9,540.0 L764.9,540.0 L762.9,540.0 L760.9,540.0 L758.9,540.0 L756.9,540.0 L754.9,540.0 L752.9,540.0 L750.9,540.0 L748.9,540.0 L746.9,540.0 L744.9,540.0 L742.9,540.0 L740.9,540.0 L738.9,540.0 L736.9,540.0 L734.9,540.0 L732.9,540.0 L730.9,540.0 L728.9,540.0 L726.9,540.0 L724.9,540.0 L722.9,540.0 L720.8,540.0 L718.8,540.0 L716.8,540.0 L714.8,540.0 L712.8,540.0 L710.8,540.0 L708.8,540.0 L706.8,540.0 L704.8,540.0 L702.8,540.0 L700.8,540.0 L698.8,540.0 L696.8,540.0 L694.8,540.0 L692.8,540.0 L690.8,540.0 L688.8,540.0 L686.8,540.0 L684.8,540.0 L682.8,540.0 L680.8,540.0 L678.8,540.0 L676.8,540.0 L674.8,540.0 L672.8,540.0 L670.8,540.0 L668.8,540.0 L666.8,540.0 L664.8,540.0 L662.8,540.0 L660.8,540.0 L658.8,540.0 L656.8,540.0 L654.8,540.0 L652.8,540.0 L650.8,540.0 L648.8,540.0 L646.8,540.0 L644.8,540.0 L642.8,540.1 L640.8,540.3 L638.8,540.5 L636.8,540.8 L634.8,541.1 L632.8,541.5 L630.8,541.8 L628.8,542.3 L626.8,543.0 L624.8,543.8 L622.8,544.7 L620.8,545.6 L618.8,546.6 L616.8,547.7 L614.8,548.8 L612.8,549.9 L610.8,550.7 L608.8,551.3 L606.8,551.7 L604.8,552.1 L602.8,552.4 L600.8,552.8 L598.8,553.3 L596.8,554.0 L594.8,554.8 L592.8,555.5 L590.8,556.2 L588.8,556.7 L586.8,557.3 L584.8,557.8 L582.8,558.2 L580.8,558.5 L578.8,558.7 L576.8,558.8 L574.8,558.8 L572.8,558.9 L570.8,559.0 L568.8,559.1 L566.8,559.2 L564.8,559.4 L562.8,559.6 L560.8,559.9 L558.8,560.4 L556.8,561.8 L554.8,563.7 L552.7,565.7 L550.7,567.5 L548.7,568.8 L546.7,570.0 L544.7,571.2 L542.7,572.2 L540.7,572.8 L538.7,573.2 L536.7,573.4 L534.7,573.6 L532.7,573.7 L530.7,573.9 L528.7,574.2 L526.7,574.5 L524.7,574.8 L522.7,575.3 L520.7,575.8 L518.7,576.5 L516.7,577.5 L514.7,578.8 L512.7,580.2 L510.7,581.6 L508.7,582.8 L506.7,584.2 L504.7,585.5 L502.7,586.7 L500.7,587.7 L498.7,588.4 L496.7,589.1 L494.7,589.7 L492.7,590.1 L490.7,590.4 L488.7,590.4 L486.7,590.5 L484.7,590.5 L482.7,590.5 L480.7,590.5 L478.7,590.5 L476.7,590.5 L474.7,590.5 L472.7,590.6 L470.7,590.6 L468.7,590.6 L466.7,590.7 L464.7,590.9 L462.7,591.1 L460.7,591.3 L458.7,591.6 L456.7,592.2 L454.7,592.9 L452.7,593.6 L450.7,594.2 L448.7,594.7 L446.7,595.3 L444.7,595.8 L442.7,596.2 L440.7,596.5 L438.7,596.7 L436.7,596.8 L434.7,596.9 L432.7,597.0 L430.7,597.0 L428.7,597.1 L426.7,597.2 L424.7,597.2 L422.7,597.3 L420.7,597.4 L418.7,597.5 L416.7,597.6 L414.7,597.7 L412.7,597.8 L410.7,597.9 L408.7,598.2 L406.7,598.6 L404.7,599.2 L402.7,600.0 L400.7,600.7 L398.7,601.6 L396.7,602.5 L394.7,603.7 L392.7,605.0 L390.7,606.5 L388.7,608.4 L386.7,610.9 L384.6,613.4 L382.6,615.8 L380.6,618.2 L378.6,620.4 L376.6,622.6 L374.6,624.7 L372.6,626.2 L370.6,627.5 L368.6,628.7 L366.6,629.6 L364.6,630.1 L362.6,630.3 L360.6,630.5 L358.6,630.7 L356.6,630.8 L354.6,631.0 L352.6,631.3 L350.6,631.6 L348.6,631.9 L346.6,632.2 L344.6,632.5 L342.6,632.8 L340.6,633.2 L338.6,633.6 L336.6,633.8 L334.6,634.0 L332.6,634.1 L330.6,634.2 L328.6,634.3 L326.6,634.4 L324.6,634.4 L322.6,634.4 L320.6,634.5 L318.6,634.5 L316.6,634.5 L314.6,634.5 L312.6,634.5 L310.6,634.5 L308.6,634.6 L306.6,634.6 L304.6,634.6 L302.6,634.6 L300.6,634.7 L298.6,634.7 L296.6,634.8 L294.6,634.9 L292.6,634.9 L290.6,635.0 L288.6,635.1 L286.6,635.1 L284.6,635.2 L282.6,635.3 L280.6,635.3 L278.6,635.4 L276.6,635.5 L274.6,635.6 L272.6,635.9 L270.6,636.2 L268.6,636.6 L266.6,637.2 L264.6,637.7 L262.6,638.6 L260.6,639.7 L258.6,641.0 L256.6,642.2 L254.6,643.2 L252.6,644.2 L250.6,645.2 L248.6,646.2 L246.6,646.9 L244.6,647.3 L242.6,647.5 L240.6,647.6 L238.6,647.7 L236.6,647.8 L234.6,648.1 L232.6,648.3 L230.6,648.7 L228.6,649.1 L226.6,649.6 L224.6,650.1 L222.6,650.7 L220.6,651.5 L218.6,652.2 L216.5,652.9 L214.5,653.5 L212.5,654.1 L210.5,654.6 L208.5,655.0 L206.5,655.4 L204.5,655.7 L202.5,655.8 L200.5,656.0 L198.5,656.1 L196.5,656.2 L194.5,656.5 L192.5,656.7 L190.5,657.1 L188.5,657.5 L186.5,658.0 L184.5,658.5 L182.5,659.1 L180.5,659.8 L178.5,660.6 L176.5,661.5 L174.5,662.7 L172.5,664.6 L170.5,667.0 L168.5,669.4 L166.5,671.7 L164.5,674.1 L162.5,676.5 L160.5,678.5 L158.5,680.3 L156.5,681.8 L154.5,682.5 L152.5,683.1 L150.5,683.5 L148.5,683.6 L146.5,683.7 L144.5,683.7 L142.5,683.8 L140.5,683.8 L138.5,683.9 L136.5,683.9 L134.5,683.9 Z" fill="rgb(173,124,8)" fill-opacity="0.72" stroke="none"/>
<path d="M132.6,683.9 L139.3,678.9 L148.5,670.2 L158.4,660.4 L167.0,654.8 L179.4,647.4 L191.7,639.4 L200.4,632.0 L206.5,627.0 L214.0,622.1 L218.9,616.5 L223.8,612.8 L234.9,609.1 L247.3,605.1 L253.5,600.5 L259.6,597.4 L268.3,596.4 L278.1,593.1 L282.5,591.0 L291.1,586.7 L296.0,581.7 L304.7,579.3 L310.9,574.3 L317.0,567.5 L323.2,565.1 L333.1,562.6 L339.3,558.3 L347.9,557.0 L354.1,553.3 L364.0,552.1 L371.4,547.8 L378.8,544.7 L387.4,543.5 L393.6,539.8 L399.8,536.0 L408.4,533.8 L415.8,532.3 L425.7,531.7 L433.1,529.3 L441.1,526.8 L451.0,524.9 L460.0,523.6 L474.0,523.4 L490.0,519.0 L510.0,517.6 L520.0,516.4 L540.0,511.0 L560.0,506.4 L570.0,506.4 L580.0,504.0 L600.0,497.0 L614.0,491.0 L630.0,489.0 L640.0,485.0 L660.0,482.0 L680.0,480.0 L696.0,478.6 L720.0,478.0 L740.0,474.4 L760.0,472.4 L780.0,471.0 L800.0,469.6 L810.0,468.0 L820.0,465.7 L836.0,463.0 L850.9,457.5 L874.3,455.6 L878.0,452.5 L881.7,449.7 L892.8,448.8 L896.5,445.1 L904.0,438.3 L908.9,437.3 L918.8,435.2 L931.1,431.9 L937.3,428.5 L948.4,420.1 L954.0,418.0 L966.9,417.7 L970.0,414.9 L973.0,413.0 L980.0,412.8 L992.7,411.9 L1005.5,408.4 L1018.2,405.3 L1025.8,401.4 L1030.9,395.7 L1038.5,391.3 L1046.2,384.9 L1053.8,379.8 L1058.9,372.2 L1064.0,364.5 L1069.1,355.6 L1072.9,346.7 L1076.1,339.1 L1080.5,332.7 L1086.9,327.0 L1093.2,323.3 L1103.1,319.4 L1107.4,315.7 L1111.7,305.2 L1115.4,300.9 L1125.2,296.6 L1129.5,293.2 L1140.0,291.9 L1150.0,287.4 L1160.0,283.0 L1169.0,281.0" fill="none" stroke="#000" stroke-width="3.4" stroke-linejoin="round" stroke-dasharray="11.3 5.0"/>
<clipPath id="cp"><rect x="128" y="90" width="1055" height="594.9"/></clipPath>
<path d="M134.5,683.9 L136.5,683.9 L138.5,683.9 L140.5,683.8 L142.5,683.8 L144.5,683.7 L146.5,683.7 L148.5,683.6 L150.5,683.5 L152.5,683.1 L154.5,682.5 L156.5,681.8 L158.5,680.3 L160.5,678.5 L162.5,676.5 L164.5,674.1 L166.5,671.7 L168.5,669.4 L170.5,667.0 L172.5,664.6 L174.5,662.7 L176.5,661.5 L178.5,660.6 L180.5,659.8 L182.5,659.1 L184.5,658.5 L186.5,658.0 L188.5,657.5 L190.5,657.1 L192.5,656.7 L194.5,656.5 L196.5,656.2 L198.5,656.1 L200.5,656.0 L202.5,655.8 L204.5,655.7 L206.5,655.4 L208.5,655.0 L210.5,654.6 L212.5,654.1 L214.5,653.5 L216.5,652.9 L218.6,652.2 L220.6,651.5 L222.6,650.7 L224.6,650.1 L226.6,649.6 L228.6,649.1 L230.6,648.7 L232.6,648.3 L234.6,648.1 L236.6,647.8 L238.6,647.7 L240.6,647.6 L242.6,647.5 L244.6,647.3 L246.6,646.9 L248.6,646.2 L250.6,645.2 L252.6,644.2 L254.6,643.2 L256.6,642.2 L258.6,641.0 L260.6,639.7 L262.6,638.6 L264.6,637.7 L266.6,637.2 L268.6,636.6 L270.6,636.2 L272.6,635.9 L274.6,635.6 L276.6,635.5 L278.6,635.4 L280.6,635.3 L282.6,635.3 L284.6,635.2 L286.6,635.1 L288.6,635.1 L290.6,635.0 L292.6,634.9 L294.6,634.9 L296.6,634.8 L298.6,634.7 L300.6,634.7 L302.6,634.6 L304.6,634.6 L306.6,634.6 L308.6,634.6 L310.6,634.5 L312.6,634.5 L314.6,634.5 L316.6,634.5 L318.6,634.5 L320.6,634.5 L322.6,634.4 L324.6,634.4 L326.6,634.4 L328.6,634.3 L330.6,634.2 L332.6,634.1 L334.6,634.0 L336.6,633.8 L338.6,633.6 L340.6,633.2 L342.6,632.8 L344.6,632.5 L346.6,632.2 L348.6,631.9 L350.6,631.6 L352.6,631.3 L354.6,631.0 L356.6,630.8 L358.6,630.7 L360.6,630.5 L362.6,630.3 L364.6,630.1 L366.6,629.6 L368.6,628.7 L370.6,627.5 L372.6,626.2 L374.6,624.7 L376.6,622.6 L378.6,620.4 L380.6,618.2 L382.6,615.8 L384.6,613.4 L386.7,610.9 L388.7,608.4 L390.7,606.5 L392.7,605.0 L394.7,603.7 L396.7,602.5 L398.7,601.6 L400.7,600.7 L402.7,600.0 L404.7,599.2 L406.7,598.6 L408.7,598.2 L410.7,597.9 L412.7,597.8 L414.7,597.7 L416.7,597.6 L418.7,597.5 L420.7,597.4 L422.7,597.3 L424.7,597.2 L426.7,597.2 L428.7,597.1 L430.7,597.0 L432.7,597.0 L434.7,596.9 L436.7,596.8 L438.7,596.7 L440.7,596.5 L442.7,596.2 L444.7,595.8 L446.7,595.3 L448.7,594.7 L450.7,594.2 L452.7,593.6 L454.7,592.9 L456.7,592.2 L458.7,591.6 L460.7,591.3 L462.7,591.1 L464.7,590.9 L466.7,590.7 L468.7,590.6 L470.7,590.6 L472.7,590.6 L474.7,590.5 L476.7,590.5 L478.7,590.5 L480.7,590.5 L482.7,590.5 L484.7,590.5 L486.7,590.5 L488.7,590.4 L490.7,590.4 L492.7,590.1 L494.7,589.7 L496.7,589.1 L498.7,588.4 L500.7,587.7 L502.7,586.7 L504.7,585.5 L506.7,584.2 L508.7,582.8 L510.7,581.6 L512.7,580.2 L514.7,578.8 L516.7,577.5 L518.7,576.5 L520.7,575.8 L522.7,575.3 L524.7,574.8 L526.7,574.5 L528.7,574.2 L530.7,573.9 L532.7,573.7 L534.7,573.6 L536.7,573.4 L538.7,573.2 L540.7,572.8 L542.7,572.2 L544.7,571.2 L546.7,570.0 L548.7,568.8 L550.7,567.5 L552.7,565.7 L554.8,563.7 L556.8,561.8 L558.8,560.4 L560.8,559.9 L562.8,559.6 L564.8,559.4 L566.8,559.2 L568.8,559.1 L570.8,559.0 L572.8,558.9 L574.8,558.8 L576.8,558.8 L578.8,558.7 L580.8,558.5 L582.8,558.2 L584.8,557.8 L586.8,557.3 L588.8,556.7 L590.8,556.2 L592.8,555.5 L594.8,554.8 L596.8,554.0 L598.8,553.3 L600.8,552.8 L602.8,552.4 L604.8,552.1 L606.8,551.7 L608.8,551.3 L610.8,550.7 L612.8,549.9 L614.8,548.8 L616.8,547.7 L618.8,546.6 L620.8,545.6 L622.8,544.7 L624.8,543.8 L626.8,543.0 L628.8,542.3 L630.8,541.8 L632.8,541.5 L634.8,541.1 L636.8,540.8 L638.8,540.5 L640.8,540.3 L642.8,540.1 L644.8,540.0 L646.8,540.0 L648.8,540.0 L650.8,540.0 L652.8,540.0 L654.8,540.0 L656.8,540.0 L658.8,540.0 L660.8,540.0 L662.8,540.0 L664.8,540.0 L666.8,540.0 L668.8,540.0 L670.8,540.0 L672.8,540.0 L674.8,540.0 L676.8,540.0 L678.8,540.0 L680.8,540.0 L682.8,540.0 L684.8,540.0 L686.8,540.0 L688.8,540.0 L690.8,540.0 L692.8,540.0 L694.8,540.0 L696.8,540.0 L698.8,540.0 L700.8,540.0 L702.8,540.0 L704.8,540.0 L706.8,540.0 L708.8,540.0 L710.8,540.0 L712.8,540.0 L714.8,540.0 L716.8,540.0 L718.8,540.0 L720.8,540.0 L722.9,540.0 L724.9,540.0 L726.9,540.0 L728.9,540.0 L730.9,540.0 L732.9,540.0 L734.9,540.0 L736.9,540.0 L738.9,540.0 L740.9,540.0 L742.9,540.0 L744.9,540.0 L746.9,540.0 L748.9,540.0 L750.9,540.0 L752.9,540.0 L754.9,540.0 L756.9,540.0 L758.9,540.0 L760.9,540.0 L762.9,540.0 L764.9,540.0 L766.9,540.0 L768.9,540.0 L770.9,540.0 L772.9,540.0 L774.9,540.0 L776.9,540.0 L778.9,540.0 L780.9,540.0 L782.9,540.0 L784.9,540.0 L786.9,540.0 L788.9,540.0 L790.9,540.0 L792.9,539.9 L794.9,539.7 L796.9,539.5 L798.9,539.2 L800.9,539.0 L802.9,538.7 L804.9,538.4 L806.9,538.2 L808.9,538.1 L810.9,538.0 L812.9,537.9 L814.9,537.8 L816.9,537.8 L818.9,537.7 L820.9,537.7 L822.9,537.7 L824.9,537.6 L826.9,537.6 L828.9,537.6 L830.9,537.6 L832.9,537.6 L834.9,537.6 L836.9,537.6 L838.9,537.6 L840.9,537.6 L842.9,537.6 L844.9,537.6 L846.9,537.6 L848.9,537.6 L850.9,537.6 L852.9,537.6 L854.9,537.6 L856.9,537.6 L858.9,537.6 L860.9,537.6 L862.9,537.6 L864.9,537.6 L866.9,537.6 L868.9,537.6 L870.9,537.6 L872.9,537.6 L874.9,537.6 L876.9,537.6 L878.9,537.6 L880.9,537.6 L882.9,537.6 L884.9,537.6 L886.9,537.6 L888.9,537.6 L891.0,537.6 L893.0,537.2 L895.0,536.5 L897.0,535.6 L899.0,534.6 L901.0,533.4 L903.0,531.6 L905.0,529.3 L907.0,526.7 L909.0,523.4 L911.0,519.8 L913.0,516.4 L915.0,512.8 L917.0,509.5 L919.0,506.7 L921.0,504.1 L923.0,501.9 L925.0,500.3 L927.0,498.9 L929.0,497.9 L931.0,497.4 L933.0,497.1 L935.0,496.9 L937.0,496.7 L939.0,496.5 L941.0,496.3 L943.0,496.1 L945.0,495.8 L947.0,495.3 L949.0,494.3 L951.0,493.1 L953.0,491.7 L955.0,490.4 L957.0,489.0 L959.0,487.6 L961.0,486.1 L963.0,484.7 L965.0,483.3 L967.0,482.0 L969.0,480.6 L971.0,479.3 L973.0,478.0" fill="none" stroke="#000" stroke-width="9.3" stroke-linecap="square" stroke-linejoin="round" clip-path="url(#cp)"/>
<line x1="130.5" x2="1181.5" y1="683.9" y2="683.9" stroke="#000" stroke-width="2.2"/>
<line x1="132.6" x2="132.6" y1="683.9" y2="694.7" stroke="#333" stroke-width="1.5"/>
<line x1="220.9" x2="220.9" y1="683.9" y2="694.7" stroke="#333" stroke-width="1.5"/>
<line x1="300.7" x2="300.7" y1="683.9" y2="694.7" stroke="#333" stroke-width="1.5"/>
<line x1="389.0" x2="389.0" y1="683.9" y2="694.7" stroke="#333" stroke-width="1.5"/>
<line x1="474.4" x2="474.4" y1="683.9" y2="694.7" stroke="#333" stroke-width="1.5"/>
<line x1="562.7" x2="562.7" y1="683.9" y2="694.7" stroke="#333" stroke-width="1.5"/>
<line x1="648.2" x2="648.2" y1="683.9" y2="694.7" stroke="#333" stroke-width="1.5"/>
<line x1="736.5" x2="736.5" y1="683.9" y2="694.7" stroke="#333" stroke-width="1.5"/>
<line x1="824.8" x2="824.8" y1="683.9" y2="694.7" stroke="#333" stroke-width="1.5"/>
<line x1="910.2" x2="910.2" y1="683.9" y2="694.7" stroke="#333" stroke-width="1.5"/>
<line x1="998.5" x2="998.5" y1="683.9" y2="694.7" stroke="#333" stroke-width="1.5"/>
<line x1="1084.0" x2="1084.0" y1="683.9" y2="694.7" stroke="#333" stroke-width="1.5"/>
<line x1="1172.3" x2="1172.3" y1="683.9" y2="694.7" stroke="#333" stroke-width="1.5"/>
<text transform="translate(175.7,713.8) rotate(-30)" text-anchor="middle" font-size="12.4" fill="#000" stroke="#000" stroke-width="0.35" textLength="54.8" lengthAdjust="spacingAndGlyphs" dy="4">Ιανουάριος</text>
<text transform="translate(260.8,716.3) rotate(-30)" text-anchor="middle" font-size="12.4" fill="#000" stroke="#000" stroke-width="0.35" textLength="67.6" lengthAdjust="spacingAndGlyphs" dy="4">Φεβρουάριος</text>
<text transform="translate(345.7,710.1) rotate(-30)" text-anchor="middle" font-size="12.4" fill="#000" stroke="#000" stroke-width="0.35" textLength="42.6" lengthAdjust="spacingAndGlyphs" dy="4">Μάρτιος</text>
<text transform="translate(430.0,710.4) rotate(-30)" text-anchor="middle" font-size="12.4" fill="#000" stroke="#000" stroke-width="0.35" textLength="46.7" lengthAdjust="spacingAndGlyphs" dy="4">Απρίλιος</text>
<text transform="translate(519.0,706.8) rotate(-30)" text-anchor="middle" font-size="12.4" fill="#000" stroke="#000" stroke-width="0.35" textLength="31.4" lengthAdjust="spacingAndGlyphs" dy="4">Μάϊος</text>
<text transform="translate(604.6,707.9) rotate(-30)" text-anchor="middle" font-size="12.4" fill="#000" stroke="#000" stroke-width="0.35" textLength="35.7" lengthAdjust="spacingAndGlyphs" dy="4">Ιούνιος</text>
<text transform="translate(693.3,708.4) rotate(-30)" text-anchor="middle" font-size="12.4" fill="#000" stroke="#000" stroke-width="0.35" textLength="36.0" lengthAdjust="spacingAndGlyphs" dy="4">Ιούλιος</text>
<text transform="translate(777.8,713.2) rotate(-30)" text-anchor="middle" font-size="12.4" fill="#000" stroke="#000" stroke-width="0.35" textLength="56.0" lengthAdjust="spacingAndGlyphs" dy="4">Αύγουστος</text>
<text transform="translate(863.7,715.7) rotate(-30)" text-anchor="middle" font-size="12.4" fill="#000" stroke="#000" stroke-width="0.35" textLength="65.9" lengthAdjust="spacingAndGlyphs" dy="4">Σεπτέμβριος</text>
<text transform="translate(949.0,713.8) rotate(-30)" text-anchor="middle" font-size="12.4" fill="#000" stroke="#000" stroke-width="0.35" textLength="57.8" lengthAdjust="spacingAndGlyphs" dy="4">Οκτώβριος</text>
<text transform="translate(1040.2,713.2) rotate(-30)" text-anchor="middle" font-size="12.4" fill="#000" stroke="#000" stroke-width="0.35" textLength="54.9" lengthAdjust="spacingAndGlyphs" dy="4">Νοέμβριος</text>
<text transform="translate(1128.2,714.9) rotate(-30)" text-anchor="middle" font-size="12.4" fill="#000" stroke="#000" stroke-width="0.35" textLength="63.1" lengthAdjust="spacingAndGlyphs" dy="4">Δεκέμβριος</text>
<text x="655.4" y="761.7" text-anchor="middle" font-size="18.9" fill="#000" stroke="#000" stroke-width="0.55" textLength="103.3" lengthAdjust="spacingAndGlyphs">Ημερομηνία</text>
<circle cx="973" cy="478" r="9.5" fill="#ff0000" stroke="#000" stroke-width="3"/>
<text x="973" y="509" text-anchor="middle" font-size="14" fill="#808080" stroke="#808080" stroke-width="0.4" textLength="38.4" lengthAdjust="spacingAndGlyphs">23/10</text>
<text x="973" y="526.6" text-anchor="middle" font-size="14" fill="#808080" stroke="#808080" stroke-width="0.4" textLength="67" lengthAdjust="spacingAndGlyphs">420.8 mm</text>
<rect x="137.3" y="104" width="212" height="104" rx="3" ry="3" fill="#fff" stroke="#ececec" stroke-width="1.2"/>
<line x1="150.9" x2="179.9" y1="124.2" y2="124.2" stroke="#000" stroke-width="3.1" stroke-dasharray="11.8 5.3"/>
<rect x="150.9" y="140.1" width="29" height="9.8" fill="#4dd2ff"/>
<rect x="150.9" y="161.1" width="29" height="9.9" fill="#c4a24e"/>
<line x1="150.9" x2="179.9" y1="186.4" y2="186.4" stroke="#000" stroke-width="9.2" stroke-linecap="square"/>
<text x="191" y="128.6" font-size="13.4" fill="#000" stroke="#000" stroke-width="0.35" textLength="135.4" lengthAdjust="spacingAndGlyphs">Μέση τιμή 2015-2024</text>
<text x="191" y="149.8" font-size="13.4" fill="#000" stroke="#000" stroke-width="0.35" textLength="144.2" lengthAdjust="spacingAndGlyphs">Πάνω από τη μέση τιμή</text>
<text x="191" y="170.7" font-size="13.4" fill="#000" stroke="#000" stroke-width="0.35" textLength="143.4" lengthAdjust="spacingAndGlyphs">Κάτω από τη μέση τιμή</text>
<text x="191" y="191" font-size="13.4" fill="#000" stroke="#000" stroke-width="0.35" textLength="30" lengthAdjust="spacingAndGlyphs">2025</text>
<g id="noa" fill="none" stroke="#6f6f6f">
<circle cx="1170.8" cy="743.4" r="20.4" stroke-width="0.9" stroke="#8a8a8a"/>
<circle cx="1170.8" cy="743.4" r="18.4" stroke-width="2.5" stroke="#808080" stroke-dasharray="1.5 0.9 0.8 1.0 1.9 0.8" stroke-opacity="0.8"/>
<circle cx="1170.8" cy="743.4" r="16.3" stroke-width="0.6" stroke="#a5a5a5"/>
<g stroke-width="0.65" stroke-linejoin="round" stroke-linecap="round">
<path d="M1166.6,732.6 q0.9,-0.9 1.2,0.6 l0.3,3.2 q1.6,1 1.6,2.8 l-0.4,3.6 q-0.2,1.6 -1.2,2.4 l0.2,10.6 l-2.2,0.1 l-0.2,-9.8 l-1.4,0.1 l-0.3,9.8 l-2.0,-0.1 l0.2,-10.2 q-2.4,-2.6 -1.6,-5.6 q0.8,-2.6 3.4,-3.4 q1.6,-0.8 2.2,-2.4 z" fill="#dcdcdc" fill-opacity="0.3"/>
<path d="M1174.6,728.3 q1.7,-0.6 2.2,1.1 q0.3,1.5 -0.8,2.4 q2.2,0.7 2.8,2.9 l0.9,5.6 q0.2,1.6 -1.0,2.6 l0.6,6.4 l1.0,6.6 l-3.0,0.2 l-0.8,-6.2 l-1.2,-5.2 l-0.9,5.4 l-0.5,6.0 l-2.8,-0.1 l0.5,-7.0 l0.2,-7.4 q-1.6,-1.6 -1.4,-3.6 l0.8,-4.2 q0.6,-2.2 2.6,-2.6 q-0.9,-1.4 0.8,-2.9 z" fill="#d6d6d6" fill-opacity="0.32"/>
<path d="M1161.8,741.5 h7.2 M1162.6,744.6 h6.2 M1163.4,747.2 v9 M1165.6,747.2 v9 M1167.6,747 v9.2 M1173.6,737 l3.6,3.4 M1172.4,741.2 h6 M1175.2,744 v6 M1173.4,750 v6.4 M1177.4,749.6 v6.6 M1169.6,739.6 l2.6,-2.4 M1160.6,738 l3,2 M1166,736.4 v4.6" stroke="#8c8c8c" stroke-width="0.55"/>
<path d="M1161.2,756.7 h18.6" stroke="#9a9a9a" stroke-width="0.6"/>
</g>
</g>
<g id="meteo">
<path d="M1212.1,736.05 L1220.8,736.05 L1229.55,743.1 L1237.95,736.05 L1246.95,736.05 L1246.95,755.05 L1237.95,755.05 L1237.95,749.1 L1232.2,753.9 Q1229.55,755.9 1227,753.9 L1221.1,749.1 L1221.1,755.05 L1212.1,755.05 Z" fill="#0c16d2"/>
<circle cx="1212" cy="736.05" r="6.1" fill="#ffc700"/>
<text x="1251.5" y="742.8" font-size="9.6" style="font-weight:normal" fill="#2a36d6" textLength="27.6" lengthAdjust="spacingAndGlyphs">Meteo</text>
<text x="1251.9" y="750.7" font-size="4.7" style="font-weight:normal" fill="#4a55dd" fill-opacity="0.85" textLength="18.4" lengthAdjust="spacingAndGlyphs">Όλα για</text>
<text x="1251.9" y="755.6" font-size="4.7" style="font-weight:normal" fill="#4a55dd" fill-opacity="0.85" textLength="22.9" lengthAdjust="spacingAndGlyphs">τον καιρό</text>
</g>

</svg></body></html>
